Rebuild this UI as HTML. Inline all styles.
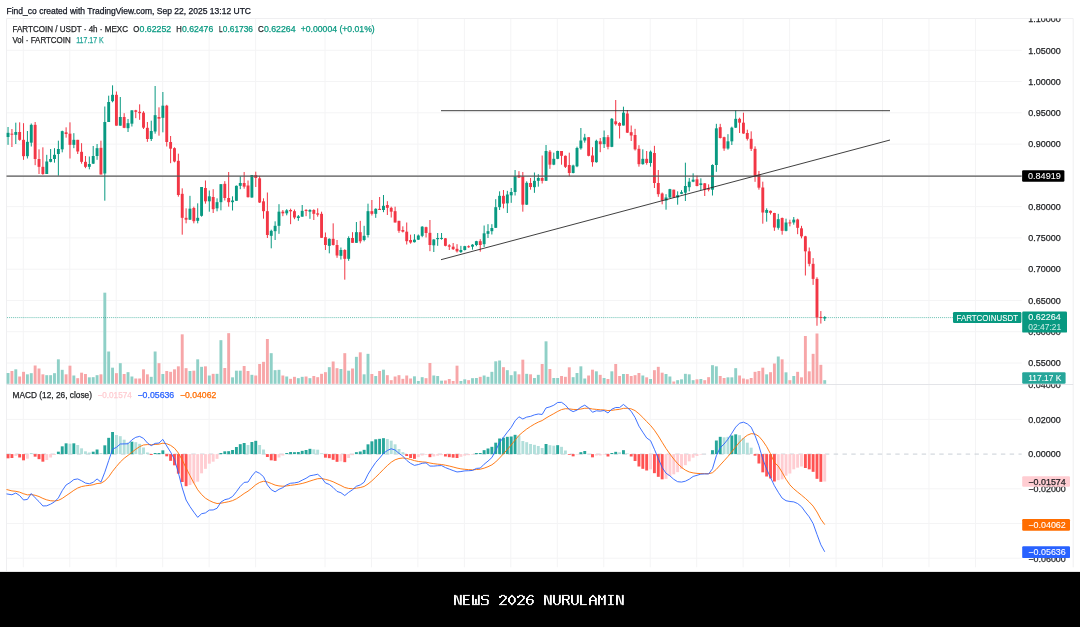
<!DOCTYPE html><html><head><meta charset="utf-8"><style>html,body{margin:0;padding:0;background:#fff}body{width:1080px;height:627px;position:relative;overflow:hidden;font-family:"Liberation Sans",sans-serif}</style></head><body><svg width="1080" height="627" viewBox="0 0 1080 627" style="position:absolute;left:0;top:0;will-change:transform;font-family:'Liberation Sans',sans-serif">
<rect x="0" y="0" width="1080" height="627" fill="#fff"/>
<g stroke="#f4f4f5" stroke-width="1" fill="none">
<line x1="23.30" y1="18.5" x2="23.30" y2="567.3"/>
<line x1="69.76" y1="18.5" x2="69.76" y2="567.3"/>
<line x1="116.22" y1="18.5" x2="116.22" y2="567.3"/>
<line x1="162.68" y1="18.5" x2="162.68" y2="567.3"/>
<line x1="209.14" y1="18.5" x2="209.14" y2="567.3"/>
<line x1="255.60" y1="18.5" x2="255.60" y2="567.3"/>
<line x1="325.00" y1="18.5" x2="325.00" y2="567.3"/>
<line x1="371.46" y1="18.5" x2="371.46" y2="567.3"/>
<line x1="417.92" y1="18.5" x2="417.92" y2="567.3"/>
<line x1="464.38" y1="18.5" x2="464.38" y2="567.3"/>
<line x1="510.84" y1="18.5" x2="510.84" y2="567.3"/>
<line x1="557.30" y1="18.5" x2="557.30" y2="567.3"/>
<line x1="603.76" y1="18.5" x2="603.76" y2="567.3"/>
<line x1="650.22" y1="18.5" x2="650.22" y2="567.3"/>
<line x1="696.68" y1="18.5" x2="696.68" y2="567.3"/>
<line x1="743.14" y1="18.5" x2="743.14" y2="567.3"/>
<line x1="789.60" y1="18.5" x2="789.60" y2="567.3"/>
<line x1="836.06" y1="18.5" x2="836.06" y2="567.3"/>
<line x1="882.52" y1="18.5" x2="882.52" y2="567.3"/>
<line x1="928.98" y1="18.5" x2="928.98" y2="567.3"/>
<line x1="975.44" y1="18.5" x2="975.44" y2="567.3"/>
<line x1="6.5" y1="50.30" x2="1021.7" y2="50.30"/>
<line x1="6.5" y1="81.57" x2="1021.7" y2="81.57"/>
<line x1="6.5" y1="112.84" x2="1021.7" y2="112.84"/>
<line x1="6.5" y1="144.11" x2="1021.7" y2="144.11"/>
<line x1="6.5" y1="175.38" x2="1021.7" y2="175.38"/>
<line x1="6.5" y1="206.65" x2="1021.7" y2="206.65"/>
<line x1="6.5" y1="237.92" x2="1021.7" y2="237.92"/>
<line x1="6.5" y1="269.19" x2="1021.7" y2="269.19"/>
<line x1="6.5" y1="300.46" x2="1021.7" y2="300.46"/>
<line x1="6.5" y1="331.73" x2="1021.7" y2="331.73"/>
<line x1="6.5" y1="363.00" x2="1021.7" y2="363.00"/>
<line x1="6.5" y1="419.40" x2="1021.7" y2="419.40"/>
<line x1="6.5" y1="488.80" x2="1021.7" y2="488.80"/>
<line x1="6.5" y1="523.50" x2="1021.7" y2="523.50"/>
<line x1="6.5" y1="558.20" x2="1021.7" y2="558.20"/>
</g>
<g stroke="#efeff1" stroke-width="1" fill="none">
<line x1="6.5" y1="18.5" x2="1073.2" y2="18.5"/>
<line x1="6.5" y1="18.5" x2="6.5" y2="571"/>
<line x1="1073.2" y1="18.5" x2="1073.2" y2="567.3"/>
</g>
<line x1="6.5" y1="384.5" x2="1073.2" y2="384.5" stroke="#e3e4e8" stroke-width="1"/>
<line x1="6.5" y1="454.1" x2="1021.7" y2="454.1" stroke="#c3cad1" stroke-width="0.9" stroke-dasharray="4.4 4.4"/>
<g>
<rect x="6.59" y="373.00" width="2.9" height="10.80" fill="#8fd0c7"/>
<rect x="10.47" y="371.00" width="2.9" height="12.80" fill="#f7a6a8"/>
<rect x="14.34" y="369.33" width="2.9" height="14.47" fill="#8fd0c7"/>
<rect x="18.21" y="376.50" width="2.9" height="7.30" fill="#f7a6a8"/>
<rect x="22.08" y="371.83" width="2.9" height="11.97" fill="#f7a6a8"/>
<rect x="25.95" y="374.33" width="2.9" height="9.47" fill="#8fd0c7"/>
<rect x="29.82" y="373.17" width="2.9" height="10.63" fill="#8fd0c7"/>
<rect x="33.69" y="365.50" width="2.9" height="18.30" fill="#f7a6a8"/>
<rect x="37.56" y="368.50" width="2.9" height="15.30" fill="#f7a6a8"/>
<rect x="41.43" y="374.33" width="2.9" height="9.47" fill="#f7a6a8"/>
<rect x="45.30" y="375.17" width="2.9" height="8.63" fill="#8fd0c7"/>
<rect x="49.17" y="375.17" width="2.9" height="8.63" fill="#8fd0c7"/>
<rect x="53.04" y="373.17" width="2.9" height="10.63" fill="#8fd0c7"/>
<rect x="56.91" y="359.33" width="2.9" height="24.47" fill="#8fd0c7"/>
<rect x="60.78" y="369.83" width="2.9" height="13.97" fill="#8fd0c7"/>
<rect x="64.65" y="374.33" width="2.9" height="9.47" fill="#f7a6a8"/>
<rect x="68.52" y="365.67" width="2.9" height="18.13" fill="#f7a6a8"/>
<rect x="72.39" y="375.50" width="2.9" height="8.30" fill="#8fd0c7"/>
<rect x="76.26" y="378.17" width="2.9" height="5.63" fill="#f7a6a8"/>
<rect x="80.13" y="372.67" width="2.9" height="11.13" fill="#f7a6a8"/>
<rect x="84.01" y="374.00" width="2.9" height="9.80" fill="#f7a6a8"/>
<rect x="87.88" y="377.33" width="2.9" height="6.47" fill="#8fd0c7"/>
<rect x="91.75" y="377.17" width="2.9" height="6.63" fill="#8fd0c7"/>
<rect x="95.62" y="375.17" width="2.9" height="8.63" fill="#8fd0c7"/>
<rect x="99.49" y="374.33" width="2.9" height="9.47" fill="#f7a6a8"/>
<rect x="103.36" y="292.67" width="2.9" height="91.13" fill="#8fd0c7"/>
<rect x="107.23" y="351.50" width="2.9" height="32.30" fill="#8fd0c7"/>
<rect x="111.10" y="367.67" width="2.9" height="16.13" fill="#8fd0c7"/>
<rect x="114.97" y="373.17" width="2.9" height="10.63" fill="#f7a6a8"/>
<rect x="118.84" y="363.17" width="2.9" height="20.63" fill="#8fd0c7"/>
<rect x="122.71" y="374.00" width="2.9" height="9.80" fill="#f7a6a8"/>
<rect x="126.58" y="372.17" width="2.9" height="11.63" fill="#8fd0c7"/>
<rect x="130.45" y="376.50" width="2.9" height="7.30" fill="#8fd0c7"/>
<rect x="134.32" y="378.50" width="2.9" height="5.30" fill="#f7a6a8"/>
<rect x="138.19" y="378.50" width="2.9" height="5.30" fill="#f7a6a8"/>
<rect x="142.06" y="369.33" width="2.9" height="14.47" fill="#f7a6a8"/>
<rect x="145.93" y="374.33" width="2.9" height="9.47" fill="#f7a6a8"/>
<rect x="149.80" y="376.83" width="2.9" height="6.97" fill="#8fd0c7"/>
<rect x="153.67" y="351.50" width="2.9" height="32.30" fill="#8fd0c7"/>
<rect x="157.54" y="363.17" width="2.9" height="20.63" fill="#f7a6a8"/>
<rect x="161.41" y="374.00" width="2.9" height="9.80" fill="#8fd0c7"/>
<rect x="165.29" y="371.00" width="2.9" height="12.80" fill="#f7a6a8"/>
<rect x="169.16" y="371.83" width="2.9" height="11.97" fill="#f7a6a8"/>
<rect x="173.03" y="369.33" width="2.9" height="14.47" fill="#f7a6a8"/>
<rect x="176.90" y="366.33" width="2.9" height="17.47" fill="#f7a6a8"/>
<rect x="180.77" y="334.33" width="2.9" height="49.47" fill="#f7a6a8"/>
<rect x="184.64" y="368.17" width="2.9" height="15.63" fill="#f7a6a8"/>
<rect x="188.51" y="371.00" width="2.9" height="12.80" fill="#8fd0c7"/>
<rect x="192.38" y="370.67" width="2.9" height="13.13" fill="#f7a6a8"/>
<rect x="196.25" y="359.33" width="2.9" height="24.47" fill="#8fd0c7"/>
<rect x="200.12" y="366.83" width="2.9" height="16.97" fill="#8fd0c7"/>
<rect x="203.99" y="366.33" width="2.9" height="17.47" fill="#f7a6a8"/>
<rect x="207.86" y="375.50" width="2.9" height="8.30" fill="#8fd0c7"/>
<rect x="211.73" y="373.83" width="2.9" height="9.97" fill="#f7a6a8"/>
<rect x="215.60" y="373.83" width="2.9" height="9.97" fill="#8fd0c7"/>
<rect x="219.47" y="340.17" width="2.9" height="43.63" fill="#8fd0c7"/>
<rect x="223.34" y="368.00" width="2.9" height="15.80" fill="#f7a6a8"/>
<rect x="227.21" y="333.17" width="2.9" height="50.63" fill="#f7a6a8"/>
<rect x="231.08" y="377.33" width="2.9" height="6.47" fill="#8fd0c7"/>
<rect x="234.95" y="370.67" width="2.9" height="13.13" fill="#8fd0c7"/>
<rect x="238.82" y="370.67" width="2.9" height="13.13" fill="#8fd0c7"/>
<rect x="242.70" y="366.00" width="2.9" height="17.80" fill="#f7a6a8"/>
<rect x="246.57" y="371.00" width="2.9" height="12.80" fill="#f7a6a8"/>
<rect x="250.44" y="374.83" width="2.9" height="8.97" fill="#8fd0c7"/>
<rect x="254.31" y="375.50" width="2.9" height="8.30" fill="#f7a6a8"/>
<rect x="258.18" y="364.00" width="2.9" height="19.80" fill="#f7a6a8"/>
<rect x="262.05" y="361.83" width="2.9" height="21.97" fill="#f7a6a8"/>
<rect x="265.92" y="339.00" width="2.9" height="44.80" fill="#f7a6a8"/>
<rect x="269.79" y="353.17" width="2.9" height="30.63" fill="#8fd0c7"/>
<rect x="273.66" y="370.17" width="2.9" height="13.63" fill="#8fd0c7"/>
<rect x="277.53" y="369.83" width="2.9" height="13.97" fill="#8fd0c7"/>
<rect x="281.40" y="375.50" width="2.9" height="8.30" fill="#f7a6a8"/>
<rect x="285.27" y="376.50" width="2.9" height="7.30" fill="#8fd0c7"/>
<rect x="289.14" y="378.83" width="2.9" height="4.97" fill="#f7a6a8"/>
<rect x="293.01" y="376.83" width="2.9" height="6.97" fill="#f7a6a8"/>
<rect x="296.88" y="378.17" width="2.9" height="5.63" fill="#8fd0c7"/>
<rect x="300.75" y="376.83" width="2.9" height="6.97" fill="#8fd0c7"/>
<rect x="304.62" y="376.50" width="2.9" height="7.30" fill="#f7a6a8"/>
<rect x="308.49" y="378.17" width="2.9" height="5.63" fill="#8fd0c7"/>
<rect x="312.36" y="376.00" width="2.9" height="7.80" fill="#f7a6a8"/>
<rect x="316.23" y="377.17" width="2.9" height="6.63" fill="#f7a6a8"/>
<rect x="320.11" y="373.83" width="2.9" height="9.97" fill="#f7a6a8"/>
<rect x="323.98" y="372.17" width="2.9" height="11.63" fill="#f7a6a8"/>
<rect x="327.85" y="367.17" width="2.9" height="16.63" fill="#8fd0c7"/>
<rect x="331.72" y="361.50" width="2.9" height="22.30" fill="#f7a6a8"/>
<rect x="335.59" y="368.17" width="2.9" height="15.63" fill="#f7a6a8"/>
<rect x="339.46" y="369.00" width="2.9" height="14.80" fill="#8fd0c7"/>
<rect x="343.33" y="353.17" width="2.9" height="30.63" fill="#f7a6a8"/>
<rect x="347.20" y="370.67" width="2.9" height="13.13" fill="#8fd0c7"/>
<rect x="351.07" y="368.50" width="2.9" height="15.30" fill="#f7a6a8"/>
<rect x="354.94" y="356.83" width="2.9" height="26.97" fill="#8fd0c7"/>
<rect x="358.81" y="352.33" width="2.9" height="31.47" fill="#f7a6a8"/>
<rect x="362.68" y="374.33" width="2.9" height="9.47" fill="#8fd0c7"/>
<rect x="366.55" y="353.83" width="2.9" height="29.97" fill="#8fd0c7"/>
<rect x="370.42" y="374.00" width="2.9" height="9.80" fill="#f7a6a8"/>
<rect x="374.29" y="376.00" width="2.9" height="7.80" fill="#8fd0c7"/>
<rect x="378.16" y="371.00" width="2.9" height="12.80" fill="#f7a6a8"/>
<rect x="382.03" y="369.67" width="2.9" height="14.13" fill="#8fd0c7"/>
<rect x="385.90" y="375.17" width="2.9" height="8.63" fill="#f7a6a8"/>
<rect x="389.77" y="380.17" width="2.9" height="3.63" fill="#f7a6a8"/>
<rect x="393.65" y="376.50" width="2.9" height="7.30" fill="#f7a6a8"/>
<rect x="397.52" y="375.17" width="2.9" height="8.63" fill="#f7a6a8"/>
<rect x="401.39" y="378.83" width="2.9" height="4.97" fill="#f7a6a8"/>
<rect x="405.26" y="375.50" width="2.9" height="8.30" fill="#f7a6a8"/>
<rect x="409.13" y="378.50" width="2.9" height="5.30" fill="#f7a6a8"/>
<rect x="413.00" y="376.33" width="2.9" height="7.47" fill="#8fd0c7"/>
<rect x="416.87" y="381.00" width="2.9" height="2.80" fill="#8fd0c7"/>
<rect x="420.74" y="377.17" width="2.9" height="6.63" fill="#8fd0c7"/>
<rect x="424.61" y="378.17" width="2.9" height="5.63" fill="#f7a6a8"/>
<rect x="428.48" y="363.00" width="2.9" height="20.80" fill="#f7a6a8"/>
<rect x="432.35" y="375.50" width="2.9" height="8.30" fill="#8fd0c7"/>
<rect x="436.22" y="376.00" width="2.9" height="7.80" fill="#8fd0c7"/>
<rect x="440.09" y="380.67" width="2.9" height="3.13" fill="#8fd0c7"/>
<rect x="443.96" y="380.50" width="2.9" height="3.30" fill="#f7a6a8"/>
<rect x="447.83" y="379.00" width="2.9" height="4.80" fill="#f7a6a8"/>
<rect x="451.70" y="381.00" width="2.9" height="2.80" fill="#f7a6a8"/>
<rect x="455.57" y="365.67" width="2.9" height="18.13" fill="#f7a6a8"/>
<rect x="459.44" y="381.00" width="2.9" height="2.80" fill="#8fd0c7"/>
<rect x="463.31" y="379.33" width="2.9" height="4.47" fill="#8fd0c7"/>
<rect x="467.18" y="380.17" width="2.9" height="3.63" fill="#f7a6a8"/>
<rect x="471.05" y="378.17" width="2.9" height="5.63" fill="#8fd0c7"/>
<rect x="474.93" y="378.00" width="2.9" height="5.80" fill="#8fd0c7"/>
<rect x="478.80" y="376.83" width="2.9" height="6.97" fill="#f7a6a8"/>
<rect x="482.67" y="375.50" width="2.9" height="8.30" fill="#8fd0c7"/>
<rect x="486.54" y="376.83" width="2.9" height="6.97" fill="#8fd0c7"/>
<rect x="490.41" y="371.83" width="2.9" height="11.97" fill="#8fd0c7"/>
<rect x="494.28" y="361.33" width="2.9" height="22.47" fill="#8fd0c7"/>
<rect x="498.15" y="360.50" width="2.9" height="23.30" fill="#8fd0c7"/>
<rect x="502.02" y="367.17" width="2.9" height="16.63" fill="#f7a6a8"/>
<rect x="505.89" y="370.17" width="2.9" height="13.63" fill="#8fd0c7"/>
<rect x="509.76" y="375.17" width="2.9" height="8.63" fill="#8fd0c7"/>
<rect x="513.63" y="371.33" width="2.9" height="12.47" fill="#8fd0c7"/>
<rect x="517.50" y="374.33" width="2.9" height="9.47" fill="#f7a6a8"/>
<rect x="521.37" y="359.67" width="2.9" height="24.13" fill="#f7a6a8"/>
<rect x="525.24" y="373.83" width="2.9" height="9.97" fill="#8fd0c7"/>
<rect x="529.11" y="374.33" width="2.9" height="9.47" fill="#f7a6a8"/>
<rect x="532.98" y="378.00" width="2.9" height="5.80" fill="#8fd0c7"/>
<rect x="536.85" y="374.83" width="2.9" height="8.97" fill="#8fd0c7"/>
<rect x="540.72" y="364.00" width="2.9" height="19.80" fill="#f7a6a8"/>
<rect x="544.59" y="341.33" width="2.9" height="42.47" fill="#8fd0c7"/>
<rect x="548.47" y="369.00" width="2.9" height="14.80" fill="#f7a6a8"/>
<rect x="552.34" y="378.00" width="2.9" height="5.80" fill="#8fd0c7"/>
<rect x="556.21" y="378.00" width="2.9" height="5.80" fill="#8fd0c7"/>
<rect x="560.08" y="376.00" width="2.9" height="7.80" fill="#f7a6a8"/>
<rect x="563.95" y="376.83" width="2.9" height="6.97" fill="#f7a6a8"/>
<rect x="567.82" y="367.33" width="2.9" height="16.47" fill="#f7a6a8"/>
<rect x="571.69" y="377.17" width="2.9" height="6.63" fill="#8fd0c7"/>
<rect x="575.56" y="373.00" width="2.9" height="10.80" fill="#8fd0c7"/>
<rect x="579.43" y="366.33" width="2.9" height="17.47" fill="#8fd0c7"/>
<rect x="583.30" y="378.50" width="2.9" height="5.30" fill="#8fd0c7"/>
<rect x="587.17" y="375.50" width="2.9" height="8.30" fill="#f7a6a8"/>
<rect x="591.04" y="369.67" width="2.9" height="14.13" fill="#f7a6a8"/>
<rect x="594.91" y="371.33" width="2.9" height="12.47" fill="#8fd0c7"/>
<rect x="598.78" y="374.83" width="2.9" height="8.97" fill="#f7a6a8"/>
<rect x="602.65" y="378.00" width="2.9" height="5.80" fill="#8fd0c7"/>
<rect x="606.52" y="379.00" width="2.9" height="4.80" fill="#f7a6a8"/>
<rect x="610.39" y="371.33" width="2.9" height="12.47" fill="#8fd0c7"/>
<rect x="614.26" y="364.00" width="2.9" height="19.80" fill="#f7a6a8"/>
<rect x="618.13" y="376.00" width="2.9" height="7.80" fill="#f7a6a8"/>
<rect x="622.00" y="374.00" width="2.9" height="9.80" fill="#8fd0c7"/>
<rect x="625.87" y="374.00" width="2.9" height="9.80" fill="#f7a6a8"/>
<rect x="629.75" y="376.00" width="2.9" height="7.80" fill="#f7a6a8"/>
<rect x="633.62" y="375.17" width="2.9" height="8.63" fill="#f7a6a8"/>
<rect x="637.49" y="373.00" width="2.9" height="10.80" fill="#f7a6a8"/>
<rect x="641.36" y="375.50" width="2.9" height="8.30" fill="#8fd0c7"/>
<rect x="645.23" y="377.33" width="2.9" height="6.47" fill="#f7a6a8"/>
<rect x="649.10" y="379.00" width="2.9" height="4.80" fill="#8fd0c7"/>
<rect x="652.97" y="370.17" width="2.9" height="13.63" fill="#f7a6a8"/>
<rect x="656.84" y="366.83" width="2.9" height="16.97" fill="#f7a6a8"/>
<rect x="660.71" y="372.67" width="2.9" height="11.13" fill="#f7a6a8"/>
<rect x="664.58" y="374.00" width="2.9" height="9.80" fill="#8fd0c7"/>
<rect x="668.45" y="376.50" width="2.9" height="7.30" fill="#8fd0c7"/>
<rect x="672.32" y="381.50" width="2.9" height="2.30" fill="#f7a6a8"/>
<rect x="676.19" y="380.17" width="2.9" height="3.63" fill="#8fd0c7"/>
<rect x="680.06" y="379.33" width="2.9" height="4.47" fill="#8fd0c7"/>
<rect x="683.93" y="373.83" width="2.9" height="9.97" fill="#8fd0c7"/>
<rect x="687.80" y="374.33" width="2.9" height="9.47" fill="#8fd0c7"/>
<rect x="691.67" y="380.17" width="2.9" height="3.63" fill="#8fd0c7"/>
<rect x="695.54" y="379.33" width="2.9" height="4.47" fill="#f7a6a8"/>
<rect x="699.41" y="379.00" width="2.9" height="4.80" fill="#8fd0c7"/>
<rect x="703.28" y="380.17" width="2.9" height="3.63" fill="#f7a6a8"/>
<rect x="707.16" y="377.17" width="2.9" height="6.63" fill="#f7a6a8"/>
<rect x="711.03" y="365.17" width="2.9" height="18.63" fill="#8fd0c7"/>
<rect x="714.90" y="366.33" width="2.9" height="17.47" fill="#8fd0c7"/>
<rect x="718.77" y="376.00" width="2.9" height="7.80" fill="#f7a6a8"/>
<rect x="722.64" y="378.00" width="2.9" height="5.80" fill="#f7a6a8"/>
<rect x="726.51" y="377.33" width="2.9" height="6.47" fill="#8fd0c7"/>
<rect x="730.38" y="377.33" width="2.9" height="6.47" fill="#8fd0c7"/>
<rect x="734.25" y="368.17" width="2.9" height="15.63" fill="#8fd0c7"/>
<rect x="738.12" y="375.50" width="2.9" height="8.30" fill="#f7a6a8"/>
<rect x="741.99" y="378.50" width="2.9" height="5.30" fill="#f7a6a8"/>
<rect x="745.86" y="379.33" width="2.9" height="4.47" fill="#f7a6a8"/>
<rect x="749.73" y="378.00" width="2.9" height="5.80" fill="#f7a6a8"/>
<rect x="753.60" y="371.83" width="2.9" height="11.97" fill="#f7a6a8"/>
<rect x="757.47" y="371.00" width="2.9" height="12.80" fill="#f7a6a8"/>
<rect x="761.34" y="367.67" width="2.9" height="16.13" fill="#f7a6a8"/>
<rect x="765.21" y="374.33" width="2.9" height="9.47" fill="#8fd0c7"/>
<rect x="769.08" y="372.17" width="2.9" height="11.63" fill="#f7a6a8"/>
<rect x="772.95" y="363.50" width="2.9" height="20.30" fill="#f7a6a8"/>
<rect x="776.82" y="356.50" width="2.9" height="27.30" fill="#8fd0c7"/>
<rect x="780.69" y="359.33" width="2.9" height="24.47" fill="#f7a6a8"/>
<rect x="784.57" y="372.33" width="2.9" height="11.47" fill="#8fd0c7"/>
<rect x="788.44" y="380.17" width="2.9" height="3.63" fill="#f7a6a8"/>
<rect x="792.31" y="376.00" width="2.9" height="7.80" fill="#8fd0c7"/>
<rect x="796.18" y="371.83" width="2.9" height="11.97" fill="#f7a6a8"/>
<rect x="800.05" y="377.33" width="2.9" height="6.47" fill="#f7a6a8"/>
<rect x="803.92" y="336.00" width="2.9" height="47.80" fill="#f7a6a8"/>
<rect x="807.79" y="371.33" width="2.9" height="12.47" fill="#f7a6a8"/>
<rect x="811.66" y="353.83" width="2.9" height="29.97" fill="#f7a6a8"/>
<rect x="815.53" y="333.50" width="2.9" height="50.30" fill="#f7a6a8"/>
<rect x="819.40" y="364.83" width="2.9" height="18.97" fill="#f7a6a8"/>
<rect x="823.27" y="380.17" width="2.9" height="3.63" fill="#8fd0c7"/>
</g>
<line x1="7" y1="317.6" x2="953" y2="317.6" stroke="#089981" stroke-width="1" stroke-dasharray="0.98 0.98" opacity="0.6"/>
<g>
<rect x="7.54" y="127.00" width="1" height="17.83" fill="#089981"/>
<rect x="6.59" y="132.83" width="2.9" height="4.17" fill="#089981"/>
<rect x="11.42" y="129.00" width="1" height="18.00" fill="#f23645"/>
<rect x="10.47" y="133.67" width="2.9" height="1.00" fill="#f23645"/>
<rect x="15.29" y="122.67" width="1" height="21.33" fill="#089981"/>
<rect x="14.34" y="132.00" width="2.9" height="2.83" fill="#089981"/>
<rect x="19.16" y="122.33" width="1" height="18.34" fill="#f23645"/>
<rect x="18.21" y="132.00" width="2.9" height="7.83" fill="#f23645"/>
<rect x="23.03" y="123.17" width="1" height="36.66" fill="#f23645"/>
<rect x="22.08" y="139.83" width="2.9" height="16.34" fill="#f23645"/>
<rect x="26.90" y="131.00" width="1" height="27.50" fill="#089981"/>
<rect x="25.95" y="141.83" width="2.9" height="14.34" fill="#089981"/>
<rect x="30.77" y="123.50" width="1" height="23.00" fill="#089981"/>
<rect x="29.82" y="124.83" width="2.9" height="17.84" fill="#089981"/>
<rect x="34.64" y="122.00" width="1" height="43.17" fill="#f23645"/>
<rect x="33.69" y="124.83" width="2.9" height="34.17" fill="#f23645"/>
<rect x="38.51" y="149.33" width="1" height="24.67" fill="#f23645"/>
<rect x="37.56" y="159.00" width="2.9" height="7.83" fill="#f23645"/>
<rect x="42.38" y="147.33" width="1" height="27.50" fill="#f23645"/>
<rect x="41.43" y="166.83" width="2.9" height="7.17" fill="#f23645"/>
<rect x="46.25" y="154.83" width="1" height="19.17" fill="#089981"/>
<rect x="45.30" y="161.50" width="2.9" height="12.50" fill="#089981"/>
<rect x="50.12" y="149.00" width="1" height="13.33" fill="#089981"/>
<rect x="49.17" y="159.00" width="2.9" height="2.83" fill="#089981"/>
<rect x="53.99" y="148.17" width="1" height="14.50" fill="#089981"/>
<rect x="53.04" y="154.83" width="2.9" height="4.17" fill="#089981"/>
<rect x="57.86" y="140.67" width="1" height="35.00" fill="#089981"/>
<rect x="56.91" y="149.00" width="2.9" height="5.00" fill="#089981"/>
<rect x="61.73" y="130.67" width="1" height="21.66" fill="#089981"/>
<rect x="60.78" y="131.17" width="2.9" height="18.16" fill="#089981"/>
<rect x="65.60" y="127.33" width="1" height="10.34" fill="#f23645"/>
<rect x="64.65" y="132.33" width="2.9" height="1.67" fill="#f23645"/>
<rect x="69.47" y="122.33" width="1" height="36.17" fill="#f23645"/>
<rect x="68.52" y="133.67" width="2.9" height="11.16" fill="#f23645"/>
<rect x="73.34" y="133.17" width="1" height="15.00" fill="#089981"/>
<rect x="72.39" y="139.83" width="2.9" height="5.00" fill="#089981"/>
<rect x="77.21" y="139.83" width="1" height="14.17" fill="#f23645"/>
<rect x="76.26" y="139.83" width="2.9" height="11.67" fill="#f23645"/>
<rect x="81.08" y="143.17" width="1" height="20.50" fill="#f23645"/>
<rect x="80.13" y="151.83" width="2.9" height="10.00" fill="#f23645"/>
<rect x="84.96" y="156.00" width="1" height="12.17" fill="#f23645"/>
<rect x="84.01" y="161.83" width="2.9" height="5.00" fill="#f23645"/>
<rect x="88.83" y="156.50" width="1" height="12.83" fill="#089981"/>
<rect x="87.88" y="164.00" width="2.9" height="2.83" fill="#089981"/>
<rect x="92.70" y="146.00" width="1" height="18.00" fill="#089981"/>
<rect x="91.75" y="156.00" width="2.9" height="7.67" fill="#089981"/>
<rect x="96.57" y="144.00" width="1" height="15.83" fill="#089981"/>
<rect x="95.62" y="148.17" width="2.9" height="7.83" fill="#089981"/>
<rect x="100.44" y="140.67" width="1" height="33.83" fill="#f23645"/>
<rect x="99.49" y="147.83" width="2.9" height="26.67" fill="#f23645"/>
<rect x="104.31" y="106.50" width="1" height="94.17" fill="#089981"/>
<rect x="103.36" y="122.00" width="2.9" height="51.50" fill="#089981"/>
<rect x="108.18" y="95.67" width="1" height="26.33" fill="#089981"/>
<rect x="107.23" y="102.00" width="2.9" height="20.00" fill="#089981"/>
<rect x="112.05" y="85.33" width="1" height="17.00" fill="#089981"/>
<rect x="111.10" y="94.83" width="2.9" height="6.34" fill="#089981"/>
<rect x="115.92" y="91.50" width="1" height="34.17" fill="#f23645"/>
<rect x="114.97" y="94.83" width="2.9" height="30.84" fill="#f23645"/>
<rect x="119.79" y="97.00" width="1" height="28.67" fill="#089981"/>
<rect x="118.84" y="117.00" width="2.9" height="8.67" fill="#089981"/>
<rect x="123.66" y="113.17" width="1" height="15.00" fill="#f23645"/>
<rect x="122.71" y="117.00" width="2.9" height="10.83" fill="#f23645"/>
<rect x="127.53" y="119.00" width="1" height="13.00" fill="#089981"/>
<rect x="126.58" y="123.17" width="2.9" height="5.00" fill="#089981"/>
<rect x="131.40" y="110.33" width="1" height="16.17" fill="#089981"/>
<rect x="130.45" y="110.33" width="2.9" height="13.34" fill="#089981"/>
<rect x="135.27" y="109.83" width="1" height="8.34" fill="#f23645"/>
<rect x="134.32" y="110.33" width="2.9" height="1.50" fill="#f23645"/>
<rect x="139.14" y="104.33" width="1" height="15.50" fill="#f23645"/>
<rect x="138.19" y="111.83" width="2.9" height="1.34" fill="#f23645"/>
<rect x="143.01" y="111.17" width="1" height="17.83" fill="#f23645"/>
<rect x="142.06" y="112.67" width="2.9" height="15.00" fill="#f23645"/>
<rect x="146.88" y="122.00" width="1" height="19.83" fill="#f23645"/>
<rect x="145.93" y="127.83" width="2.9" height="11.17" fill="#f23645"/>
<rect x="150.75" y="120.67" width="1" height="20.33" fill="#089981"/>
<rect x="149.80" y="131.00" width="2.9" height="8.00" fill="#089981"/>
<rect x="154.62" y="86.00" width="1" height="47.67" fill="#089981"/>
<rect x="153.67" y="115.17" width="2.9" height="16.33" fill="#089981"/>
<rect x="158.49" y="107.33" width="1" height="28.34" fill="#f23645"/>
<rect x="157.54" y="117.00" width="2.9" height="1.67" fill="#f23645"/>
<rect x="162.36" y="92.00" width="1" height="40.33" fill="#089981"/>
<rect x="161.41" y="105.67" width="2.9" height="12.16" fill="#089981"/>
<rect x="166.24" y="104.83" width="1" height="41.67" fill="#f23645"/>
<rect x="165.29" y="105.67" width="2.9" height="36.33" fill="#f23645"/>
<rect x="170.11" y="136.00" width="1" height="27.17" fill="#f23645"/>
<rect x="169.16" y="142.00" width="2.9" height="6.67" fill="#f23645"/>
<rect x="173.98" y="147.33" width="1" height="15.00" fill="#f23645"/>
<rect x="173.03" y="148.17" width="2.9" height="13.33" fill="#f23645"/>
<rect x="177.85" y="153.67" width="1" height="43.00" fill="#f23645"/>
<rect x="176.90" y="160.83" width="2.9" height="34.17" fill="#f23645"/>
<rect x="181.72" y="188.33" width="1" height="46.34" fill="#f23645"/>
<rect x="180.77" y="193.83" width="2.9" height="24.00" fill="#f23645"/>
<rect x="185.59" y="208.33" width="1" height="15.00" fill="#f23645"/>
<rect x="184.64" y="217.83" width="2.9" height="1.84" fill="#f23645"/>
<rect x="189.46" y="195.83" width="1" height="24.17" fill="#089981"/>
<rect x="188.51" y="208.67" width="2.9" height="11.00" fill="#089981"/>
<rect x="193.33" y="206.67" width="1" height="16.66" fill="#f23645"/>
<rect x="192.38" y="208.00" width="2.9" height="13.17" fill="#f23645"/>
<rect x="197.20" y="203.33" width="1" height="20.00" fill="#089981"/>
<rect x="196.25" y="217.83" width="2.9" height="3.00" fill="#089981"/>
<rect x="201.07" y="187.00" width="1" height="29.67" fill="#089981"/>
<rect x="200.12" y="187.00" width="2.9" height="28.83" fill="#089981"/>
<rect x="204.94" y="180.50" width="1" height="23.17" fill="#f23645"/>
<rect x="203.99" y="188.00" width="2.9" height="13.33" fill="#f23645"/>
<rect x="208.81" y="190.50" width="1" height="21.17" fill="#089981"/>
<rect x="207.86" y="196.33" width="2.9" height="5.00" fill="#089981"/>
<rect x="212.68" y="189.17" width="1" height="23.83" fill="#f23645"/>
<rect x="211.73" y="197.00" width="2.9" height="12.17" fill="#f23645"/>
<rect x="216.55" y="198.33" width="1" height="13.00" fill="#089981"/>
<rect x="215.60" y="202.17" width="2.9" height="6.16" fill="#089981"/>
<rect x="220.42" y="184.17" width="1" height="26.16" fill="#089981"/>
<rect x="219.47" y="184.17" width="2.9" height="18.00" fill="#089981"/>
<rect x="224.29" y="181.17" width="1" height="19.33" fill="#f23645"/>
<rect x="223.34" y="183.83" width="2.9" height="14.17" fill="#f23645"/>
<rect x="228.16" y="172.00" width="1" height="34.67" fill="#f23645"/>
<rect x="227.21" y="198.00" width="2.9" height="4.17" fill="#f23645"/>
<rect x="232.03" y="196.33" width="1" height="14.17" fill="#089981"/>
<rect x="231.08" y="200.50" width="2.9" height="1.67" fill="#089981"/>
<rect x="235.90" y="185.50" width="1" height="15.33" fill="#089981"/>
<rect x="234.95" y="185.83" width="2.9" height="15.00" fill="#089981"/>
<rect x="239.77" y="176.33" width="1" height="12.84" fill="#089981"/>
<rect x="238.82" y="183.00" width="2.9" height="2.83" fill="#089981"/>
<rect x="243.65" y="172.00" width="1" height="16.67" fill="#f23645"/>
<rect x="242.70" y="183.00" width="2.9" height="3.67" fill="#f23645"/>
<rect x="247.52" y="180.50" width="1" height="17.00" fill="#f23645"/>
<rect x="246.57" y="185.50" width="2.9" height="11.67" fill="#f23645"/>
<rect x="251.39" y="175.00" width="1" height="22.83" fill="#089981"/>
<rect x="250.44" y="175.00" width="2.9" height="22.50" fill="#089981"/>
<rect x="255.26" y="171.67" width="1" height="15.33" fill="#f23645"/>
<rect x="254.31" y="175.00" width="2.9" height="3.00" fill="#f23645"/>
<rect x="259.13" y="175.83" width="1" height="27.17" fill="#f23645"/>
<rect x="258.18" y="178.33" width="2.9" height="24.17" fill="#f23645"/>
<rect x="263.00" y="198.33" width="1" height="20.34" fill="#f23645"/>
<rect x="262.05" y="201.33" width="2.9" height="9.84" fill="#f23645"/>
<rect x="266.87" y="192.50" width="1" height="45.50" fill="#f23645"/>
<rect x="265.92" y="211.17" width="2.9" height="23.83" fill="#f23645"/>
<rect x="270.74" y="229.67" width="1" height="18.66" fill="#089981"/>
<rect x="269.79" y="230.83" width="2.9" height="5.00" fill="#089981"/>
<rect x="274.61" y="221.33" width="1" height="18.67" fill="#089981"/>
<rect x="273.66" y="225.83" width="2.9" height="5.34" fill="#089981"/>
<rect x="278.48" y="204.17" width="1" height="29.66" fill="#089981"/>
<rect x="277.53" y="211.67" width="2.9" height="14.16" fill="#089981"/>
<rect x="282.35" y="210.00" width="1" height="6.17" fill="#f23645"/>
<rect x="281.40" y="211.67" width="2.9" height="1.66" fill="#f23645"/>
<rect x="286.22" y="209.17" width="1" height="6.16" fill="#089981"/>
<rect x="285.27" y="210.33" width="2.9" height="3.00" fill="#089981"/>
<rect x="290.09" y="208.67" width="1" height="15.50" fill="#f23645"/>
<rect x="289.14" y="210.00" width="2.9" height="1.33" fill="#f23645"/>
<rect x="293.96" y="209.50" width="1" height="9.67" fill="#f23645"/>
<rect x="293.01" y="211.17" width="2.9" height="6.33" fill="#f23645"/>
<rect x="297.83" y="215.00" width="1" height="5.83" fill="#089981"/>
<rect x="296.88" y="216.33" width="2.9" height="1.67" fill="#089981"/>
<rect x="301.70" y="205.00" width="1" height="11.67" fill="#089981"/>
<rect x="300.75" y="210.83" width="2.9" height="5.84" fill="#089981"/>
<rect x="305.57" y="209.17" width="1" height="7.00" fill="#f23645"/>
<rect x="304.62" y="209.92" width="2.9" height="1.00" fill="#f23645"/>
<rect x="309.44" y="209.17" width="1" height="9.66" fill="#089981"/>
<rect x="308.49" y="210.00" width="2.9" height="1.67" fill="#089981"/>
<rect x="313.31" y="209.17" width="1" height="10.83" fill="#f23645"/>
<rect x="312.36" y="210.00" width="2.9" height="3.83" fill="#f23645"/>
<rect x="317.18" y="208.33" width="1" height="8.34" fill="#f23645"/>
<rect x="316.23" y="213.33" width="2.9" height="1.34" fill="#f23645"/>
<rect x="321.06" y="211.67" width="1" height="26.16" fill="#f23645"/>
<rect x="320.11" y="213.83" width="2.9" height="24.00" fill="#f23645"/>
<rect x="324.93" y="232.50" width="1" height="17.50" fill="#f23645"/>
<rect x="323.98" y="237.17" width="2.9" height="7.83" fill="#f23645"/>
<rect x="328.80" y="238.33" width="1" height="15.00" fill="#089981"/>
<rect x="327.85" y="238.83" width="2.9" height="7.00" fill="#089981"/>
<rect x="332.67" y="223.33" width="1" height="22.17" fill="#f23645"/>
<rect x="331.72" y="238.83" width="2.9" height="6.17" fill="#f23645"/>
<rect x="336.54" y="240.00" width="1" height="17.83" fill="#f23645"/>
<rect x="335.59" y="245.00" width="2.9" height="10.50" fill="#f23645"/>
<rect x="340.41" y="247.50" width="1" height="12.00" fill="#089981"/>
<rect x="339.46" y="250.00" width="2.9" height="5.83" fill="#089981"/>
<rect x="344.28" y="249.17" width="1" height="30.50" fill="#f23645"/>
<rect x="343.33" y="250.00" width="2.9" height="8.83" fill="#f23645"/>
<rect x="348.15" y="236.33" width="1" height="24.50" fill="#089981"/>
<rect x="347.20" y="238.00" width="2.9" height="20.83" fill="#089981"/>
<rect x="352.02" y="232.17" width="1" height="10.66" fill="#f23645"/>
<rect x="351.07" y="238.00" width="2.9" height="4.83" fill="#f23645"/>
<rect x="355.89" y="222.00" width="1" height="20.83" fill="#089981"/>
<rect x="354.94" y="232.17" width="2.9" height="10.66" fill="#089981"/>
<rect x="359.76" y="220.83" width="1" height="22.50" fill="#f23645"/>
<rect x="358.81" y="232.17" width="2.9" height="9.16" fill="#f23645"/>
<rect x="363.63" y="225.83" width="1" height="15.50" fill="#089981"/>
<rect x="362.68" y="235.83" width="2.9" height="4.17" fill="#089981"/>
<rect x="367.50" y="203.67" width="1" height="33.83" fill="#089981"/>
<rect x="366.55" y="211.17" width="2.9" height="23.83" fill="#089981"/>
<rect x="371.37" y="200.00" width="1" height="15.50" fill="#f23645"/>
<rect x="370.42" y="211.17" width="2.9" height="2.66" fill="#f23645"/>
<rect x="375.24" y="208.33" width="1" height="9.50" fill="#089981"/>
<rect x="374.29" y="208.83" width="2.9" height="5.00" fill="#089981"/>
<rect x="379.11" y="197.00" width="1" height="13.00" fill="#f23645"/>
<rect x="378.16" y="208.83" width="2.9" height="1.17" fill="#f23645"/>
<rect x="382.98" y="195.00" width="1" height="17.17" fill="#089981"/>
<rect x="382.03" y="205.83" width="2.9" height="4.17" fill="#089981"/>
<rect x="386.85" y="201.17" width="1" height="13.83" fill="#f23645"/>
<rect x="385.90" y="205.00" width="2.9" height="2.83" fill="#f23645"/>
<rect x="390.72" y="206.67" width="1" height="10.83" fill="#f23645"/>
<rect x="389.77" y="207.83" width="2.9" height="3.84" fill="#f23645"/>
<rect x="394.60" y="206.67" width="1" height="15.83" fill="#f23645"/>
<rect x="393.65" y="211.17" width="2.9" height="11.33" fill="#f23645"/>
<rect x="398.47" y="220.83" width="1" height="12.00" fill="#f23645"/>
<rect x="397.52" y="220.83" width="2.9" height="10.00" fill="#f23645"/>
<rect x="402.34" y="226.33" width="1" height="6.17" fill="#f23645"/>
<rect x="401.39" y="230.00" width="2.9" height="1.67" fill="#f23645"/>
<rect x="406.21" y="222.50" width="1" height="22.00" fill="#f23645"/>
<rect x="405.26" y="231.67" width="2.9" height="9.50" fill="#f23645"/>
<rect x="410.08" y="234.67" width="1" height="9.00" fill="#f23645"/>
<rect x="409.13" y="240.00" width="2.9" height="2.50" fill="#f23645"/>
<rect x="413.95" y="234.17" width="1" height="8.33" fill="#089981"/>
<rect x="413.00" y="239.67" width="2.9" height="2.50" fill="#089981"/>
<rect x="417.82" y="234.50" width="1" height="5.50" fill="#089981"/>
<rect x="416.87" y="235.50" width="2.9" height="4.17" fill="#089981"/>
<rect x="421.69" y="226.17" width="1" height="11.00" fill="#089981"/>
<rect x="420.74" y="226.67" width="2.9" height="9.16" fill="#089981"/>
<rect x="425.56" y="226.67" width="1" height="10.83" fill="#f23645"/>
<rect x="424.61" y="227.17" width="2.9" height="5.83" fill="#f23645"/>
<rect x="429.43" y="220.00" width="1" height="31.17" fill="#f23645"/>
<rect x="428.48" y="232.83" width="2.9" height="12.17" fill="#f23645"/>
<rect x="433.30" y="239.17" width="1" height="12.83" fill="#089981"/>
<rect x="432.35" y="239.50" width="2.9" height="5.83" fill="#089981"/>
<rect x="437.17" y="233.00" width="1" height="12.83" fill="#089981"/>
<rect x="436.22" y="238.00" width="2.9" height="1.17" fill="#089981"/>
<rect x="441.04" y="233.00" width="1" height="6.67" fill="#089981"/>
<rect x="440.09" y="237.92" width="2.9" height="1.00" fill="#089981"/>
<rect x="444.91" y="238.00" width="1" height="8.33" fill="#f23645"/>
<rect x="443.96" y="238.33" width="2.9" height="7.50" fill="#f23645"/>
<rect x="448.78" y="244.17" width="1" height="5.83" fill="#f23645"/>
<rect x="447.83" y="245.33" width="2.9" height="1.34" fill="#f23645"/>
<rect x="452.65" y="243.00" width="1" height="7.00" fill="#f23645"/>
<rect x="451.70" y="246.67" width="2.9" height="2.50" fill="#f23645"/>
<rect x="456.52" y="244.17" width="1" height="8.33" fill="#f23645"/>
<rect x="455.57" y="248.83" width="2.9" height="2.50" fill="#f23645"/>
<rect x="460.39" y="245.83" width="1" height="7.17" fill="#089981"/>
<rect x="459.44" y="250.00" width="2.9" height="2.00" fill="#089981"/>
<rect x="464.26" y="245.83" width="1" height="4.67" fill="#089981"/>
<rect x="463.31" y="246.17" width="2.9" height="3.83" fill="#089981"/>
<rect x="468.13" y="245.33" width="1" height="2.50" fill="#f23645"/>
<rect x="467.18" y="246.25" width="2.9" height="1.00" fill="#f23645"/>
<rect x="472.00" y="244.17" width="1" height="5.50" fill="#089981"/>
<rect x="471.05" y="244.67" width="2.9" height="2.00" fill="#089981"/>
<rect x="475.88" y="240.83" width="1" height="5.34" fill="#089981"/>
<rect x="474.93" y="241.17" width="2.9" height="3.83" fill="#089981"/>
<rect x="479.75" y="239.17" width="1" height="12.50" fill="#f23645"/>
<rect x="478.80" y="241.17" width="2.9" height="3.83" fill="#f23645"/>
<rect x="483.62" y="225.50" width="1" height="21.50" fill="#089981"/>
<rect x="482.67" y="233.33" width="2.9" height="10.84" fill="#089981"/>
<rect x="487.49" y="224.17" width="1" height="13.83" fill="#089981"/>
<rect x="486.54" y="231.17" width="2.9" height="2.66" fill="#089981"/>
<rect x="491.36" y="224.17" width="1" height="10.33" fill="#089981"/>
<rect x="490.41" y="228.00" width="2.9" height="3.17" fill="#089981"/>
<rect x="495.23" y="199.17" width="1" height="28.66" fill="#089981"/>
<rect x="494.28" y="207.17" width="2.9" height="20.66" fill="#089981"/>
<rect x="499.10" y="191.33" width="1" height="18.67" fill="#089981"/>
<rect x="498.15" y="195.83" width="2.9" height="11.34" fill="#089981"/>
<rect x="502.97" y="190.00" width="1" height="18.33" fill="#f23645"/>
<rect x="502.02" y="195.83" width="2.9" height="7.84" fill="#f23645"/>
<rect x="506.84" y="190.83" width="1" height="22.17" fill="#089981"/>
<rect x="505.89" y="194.50" width="2.9" height="8.83" fill="#089981"/>
<rect x="510.71" y="188.00" width="1" height="14.83" fill="#089981"/>
<rect x="509.76" y="192.00" width="2.9" height="3.33" fill="#089981"/>
<rect x="514.58" y="170.00" width="1" height="25.50" fill="#089981"/>
<rect x="513.63" y="176.17" width="2.9" height="15.83" fill="#089981"/>
<rect x="518.45" y="171.17" width="1" height="6.66" fill="#f23645"/>
<rect x="517.50" y="175.50" width="2.9" height="2.00" fill="#f23645"/>
<rect x="522.32" y="172.00" width="1" height="39.67" fill="#f23645"/>
<rect x="521.37" y="176.33" width="2.9" height="28.34" fill="#f23645"/>
<rect x="526.19" y="181.33" width="1" height="23.67" fill="#089981"/>
<rect x="525.24" y="182.83" width="2.9" height="21.84" fill="#089981"/>
<rect x="530.06" y="178.00" width="1" height="11.67" fill="#f23645"/>
<rect x="529.11" y="183.00" width="2.9" height="4.00" fill="#f23645"/>
<rect x="533.93" y="172.50" width="1" height="20.33" fill="#089981"/>
<rect x="532.98" y="180.83" width="2.9" height="6.34" fill="#089981"/>
<rect x="537.80" y="174.17" width="1" height="12.50" fill="#089981"/>
<rect x="536.85" y="178.00" width="2.9" height="2.83" fill="#089981"/>
<rect x="541.67" y="155.50" width="1" height="28.00" fill="#f23645"/>
<rect x="540.72" y="178.00" width="2.9" height="2.83" fill="#f23645"/>
<rect x="545.54" y="145.00" width="1" height="35.83" fill="#089981"/>
<rect x="544.59" y="151.00" width="2.9" height="29.83" fill="#089981"/>
<rect x="549.42" y="150.00" width="1" height="18.83" fill="#f23645"/>
<rect x="548.47" y="151.67" width="2.9" height="13.00" fill="#f23645"/>
<rect x="553.29" y="152.67" width="1" height="12.50" fill="#089981"/>
<rect x="552.34" y="158.83" width="2.9" height="5.84" fill="#089981"/>
<rect x="557.16" y="150.67" width="1" height="8.50" fill="#089981"/>
<rect x="556.21" y="151.00" width="2.9" height="7.83" fill="#089981"/>
<rect x="561.03" y="151.00" width="1" height="13.67" fill="#f23645"/>
<rect x="560.08" y="151.00" width="2.9" height="4.83" fill="#f23645"/>
<rect x="564.90" y="155.50" width="1" height="12.50" fill="#f23645"/>
<rect x="563.95" y="155.83" width="2.9" height="11.00" fill="#f23645"/>
<rect x="568.77" y="152.67" width="1" height="23.66" fill="#f23645"/>
<rect x="567.82" y="165.00" width="2.9" height="8.00" fill="#f23645"/>
<rect x="572.64" y="164.67" width="1" height="8.66" fill="#089981"/>
<rect x="571.69" y="165.50" width="2.9" height="7.50" fill="#089981"/>
<rect x="576.51" y="146.67" width="1" height="20.50" fill="#089981"/>
<rect x="575.56" y="148.00" width="2.9" height="18.33" fill="#089981"/>
<rect x="580.38" y="128.00" width="1" height="21.67" fill="#089981"/>
<rect x="579.43" y="140.50" width="2.9" height="7.83" fill="#089981"/>
<rect x="584.25" y="133.83" width="1" height="8.84" fill="#089981"/>
<rect x="583.30" y="137.50" width="2.9" height="3.00" fill="#089981"/>
<rect x="588.12" y="137.17" width="1" height="19.16" fill="#f23645"/>
<rect x="587.17" y="137.17" width="2.9" height="18.66" fill="#f23645"/>
<rect x="591.99" y="147.17" width="1" height="19.50" fill="#f23645"/>
<rect x="591.04" y="155.50" width="2.9" height="6.67" fill="#f23645"/>
<rect x="595.86" y="139.67" width="1" height="23.00" fill="#089981"/>
<rect x="594.91" y="140.83" width="2.9" height="21.34" fill="#089981"/>
<rect x="599.73" y="138.00" width="1" height="14.17" fill="#f23645"/>
<rect x="598.78" y="141.33" width="2.9" height="2.84" fill="#f23645"/>
<rect x="603.60" y="130.50" width="1" height="17.50" fill="#089981"/>
<rect x="602.65" y="137.17" width="2.9" height="7.00" fill="#089981"/>
<rect x="607.47" y="135.00" width="1" height="14.33" fill="#f23645"/>
<rect x="606.52" y="137.17" width="2.9" height="9.66" fill="#f23645"/>
<rect x="611.34" y="118.00" width="1" height="29.17" fill="#089981"/>
<rect x="610.39" y="118.83" width="2.9" height="28.00" fill="#089981"/>
<rect x="615.21" y="100.00" width="1" height="25.50" fill="#f23645"/>
<rect x="614.26" y="121.33" width="2.9" height="2.84" fill="#f23645"/>
<rect x="619.08" y="122.17" width="1" height="16.33" fill="#f23645"/>
<rect x="618.13" y="123.00" width="2.9" height="2.83" fill="#f23645"/>
<rect x="622.95" y="106.67" width="1" height="18.83" fill="#089981"/>
<rect x="622.00" y="112.67" width="2.9" height="12.83" fill="#089981"/>
<rect x="626.82" y="110.00" width="1" height="23.00" fill="#f23645"/>
<rect x="625.87" y="113.50" width="2.9" height="19.17" fill="#f23645"/>
<rect x="630.70" y="125.50" width="1" height="15.50" fill="#f23645"/>
<rect x="629.75" y="132.17" width="2.9" height="3.33" fill="#f23645"/>
<rect x="634.57" y="128.83" width="1" height="21.67" fill="#f23645"/>
<rect x="633.62" y="135.00" width="2.9" height="14.33" fill="#f23645"/>
<rect x="638.44" y="145.17" width="1" height="21.50" fill="#f23645"/>
<rect x="637.49" y="148.83" width="2.9" height="15.34" fill="#f23645"/>
<rect x="642.31" y="149.33" width="1" height="15.34" fill="#089981"/>
<rect x="641.36" y="158.83" width="2.9" height="5.34" fill="#089981"/>
<rect x="646.18" y="151.00" width="1" height="13.67" fill="#f23645"/>
<rect x="645.23" y="158.83" width="2.9" height="4.17" fill="#f23645"/>
<rect x="650.05" y="150.50" width="1" height="16.17" fill="#089981"/>
<rect x="649.10" y="151.67" width="2.9" height="11.33" fill="#089981"/>
<rect x="653.92" y="145.83" width="1" height="42.17" fill="#f23645"/>
<rect x="652.97" y="153.00" width="2.9" height="30.00" fill="#f23645"/>
<rect x="657.79" y="170.00" width="1" height="26.83" fill="#f23645"/>
<rect x="656.84" y="183.00" width="2.9" height="11.17" fill="#f23645"/>
<rect x="661.66" y="192.50" width="1" height="11.83" fill="#f23645"/>
<rect x="660.71" y="193.50" width="2.9" height="7.00" fill="#f23645"/>
<rect x="665.53" y="194.17" width="1" height="15.50" fill="#089981"/>
<rect x="664.58" y="197.50" width="2.9" height="3.00" fill="#089981"/>
<rect x="669.40" y="188.83" width="1" height="9.17" fill="#089981"/>
<rect x="668.45" y="189.17" width="2.9" height="8.33" fill="#089981"/>
<rect x="673.27" y="189.67" width="1" height="8.33" fill="#f23645"/>
<rect x="672.32" y="189.67" width="2.9" height="7.83" fill="#f23645"/>
<rect x="677.14" y="191.33" width="1" height="13.34" fill="#089981"/>
<rect x="676.19" y="195.17" width="2.9" height="2.33" fill="#089981"/>
<rect x="681.01" y="190.17" width="1" height="4.00" fill="#089981"/>
<rect x="680.06" y="192.17" width="2.9" height="1.66" fill="#089981"/>
<rect x="684.88" y="162.67" width="1" height="38.33" fill="#089981"/>
<rect x="683.93" y="186.00" width="2.9" height="6.67" fill="#089981"/>
<rect x="688.75" y="178.00" width="1" height="13.33" fill="#089981"/>
<rect x="687.80" y="181.67" width="2.9" height="5.50" fill="#089981"/>
<rect x="692.62" y="173.33" width="1" height="8.84" fill="#089981"/>
<rect x="691.67" y="179.67" width="2.9" height="2.00" fill="#089981"/>
<rect x="696.49" y="175.50" width="1" height="10.83" fill="#f23645"/>
<rect x="695.54" y="179.33" width="2.9" height="6.67" fill="#f23645"/>
<rect x="700.36" y="178.33" width="1" height="11.67" fill="#089981"/>
<rect x="699.41" y="183.33" width="2.9" height="1.67" fill="#089981"/>
<rect x="704.23" y="183.00" width="1" height="13.00" fill="#f23645"/>
<rect x="703.28" y="183.33" width="2.9" height="6.34" fill="#f23645"/>
<rect x="708.11" y="184.33" width="1" height="7.00" fill="#f23645"/>
<rect x="707.16" y="188.50" width="2.9" height="1.17" fill="#f23645"/>
<rect x="711.98" y="164.33" width="1" height="31.17" fill="#089981"/>
<rect x="711.03" y="165.00" width="2.9" height="24.67" fill="#089981"/>
<rect x="715.85" y="123.83" width="1" height="48.00" fill="#089981"/>
<rect x="714.90" y="128.33" width="2.9" height="36.67" fill="#089981"/>
<rect x="719.72" y="123.83" width="1" height="14.67" fill="#f23645"/>
<rect x="718.77" y="127.17" width="2.9" height="10.83" fill="#f23645"/>
<rect x="723.59" y="136.67" width="1" height="14.16" fill="#f23645"/>
<rect x="722.64" y="137.17" width="2.9" height="11.33" fill="#f23645"/>
<rect x="727.46" y="134.17" width="1" height="15.50" fill="#089981"/>
<rect x="726.51" y="141.33" width="2.9" height="7.17" fill="#089981"/>
<rect x="731.33" y="126.67" width="1" height="18.33" fill="#089981"/>
<rect x="730.38" y="127.67" width="2.9" height="13.66" fill="#089981"/>
<rect x="735.20" y="110.50" width="1" height="17.50" fill="#089981"/>
<rect x="734.25" y="118.83" width="2.9" height="8.84" fill="#089981"/>
<rect x="739.07" y="117.67" width="1" height="15.33" fill="#f23645"/>
<rect x="738.12" y="118.83" width="2.9" height="3.84" fill="#f23645"/>
<rect x="742.94" y="112.67" width="1" height="21.16" fill="#f23645"/>
<rect x="741.99" y="122.67" width="2.9" height="10.83" fill="#f23645"/>
<rect x="746.81" y="129.67" width="1" height="10.83" fill="#f23645"/>
<rect x="745.86" y="133.00" width="2.9" height="5.83" fill="#f23645"/>
<rect x="750.68" y="131.33" width="1" height="19.67" fill="#f23645"/>
<rect x="749.73" y="138.83" width="2.9" height="10.00" fill="#f23645"/>
<rect x="754.55" y="146.33" width="1" height="35.50" fill="#f23645"/>
<rect x="753.60" y="148.83" width="2.9" height="27.50" fill="#f23645"/>
<rect x="758.42" y="171.00" width="1" height="18.67" fill="#f23645"/>
<rect x="757.47" y="174.67" width="2.9" height="13.00" fill="#f23645"/>
<rect x="762.29" y="181.67" width="1" height="42.00" fill="#f23645"/>
<rect x="761.34" y="187.50" width="2.9" height="25.00" fill="#f23645"/>
<rect x="766.16" y="208.33" width="1" height="13.34" fill="#089981"/>
<rect x="765.21" y="210.00" width="2.9" height="2.83" fill="#089981"/>
<rect x="770.03" y="210.50" width="1" height="4.00" fill="#f23645"/>
<rect x="769.08" y="210.83" width="2.9" height="2.00" fill="#f23645"/>
<rect x="773.90" y="212.83" width="1" height="18.00" fill="#f23645"/>
<rect x="772.95" y="213.00" width="2.9" height="14.50" fill="#f23645"/>
<rect x="777.77" y="213.83" width="1" height="15.84" fill="#089981"/>
<rect x="776.82" y="219.17" width="2.9" height="8.66" fill="#089981"/>
<rect x="781.64" y="217.50" width="1" height="17.17" fill="#f23645"/>
<rect x="780.69" y="218.00" width="2.9" height="12.83" fill="#f23645"/>
<rect x="785.52" y="218.67" width="1" height="12.66" fill="#089981"/>
<rect x="784.57" y="222.50" width="2.9" height="8.33" fill="#089981"/>
<rect x="789.39" y="219.67" width="1" height="6.66" fill="#f23645"/>
<rect x="788.44" y="222.42" width="2.9" height="1.00" fill="#f23645"/>
<rect x="793.26" y="217.00" width="1" height="7.67" fill="#089981"/>
<rect x="792.31" y="219.67" width="2.9" height="2.83" fill="#089981"/>
<rect x="797.13" y="218.67" width="1" height="15.50" fill="#f23645"/>
<rect x="796.18" y="219.50" width="2.9" height="8.33" fill="#f23645"/>
<rect x="801.00" y="225.83" width="1" height="12.50" fill="#f23645"/>
<rect x="800.05" y="228.33" width="2.9" height="8.00" fill="#f23645"/>
<rect x="804.87" y="235.83" width="1" height="39.67" fill="#f23645"/>
<rect x="803.92" y="236.33" width="2.9" height="15.00" fill="#f23645"/>
<rect x="808.74" y="247.50" width="1" height="18.83" fill="#f23645"/>
<rect x="807.79" y="251.33" width="2.9" height="12.50" fill="#f23645"/>
<rect x="812.61" y="258.09" width="1" height="26.80" fill="#f23645"/>
<rect x="811.66" y="263.83" width="2.9" height="15.06" fill="#f23645"/>
<rect x="816.48" y="277.23" width="1" height="48.51" fill="#f23645"/>
<rect x="815.53" y="278.89" width="2.9" height="38.56" fill="#f23645"/>
<rect x="820.35" y="311.06" width="1" height="12.51" fill="#f23645"/>
<rect x="819.40" y="316.94" width="2.9" height="1.00" fill="#f23645"/>
<rect x="824.22" y="316.17" width="1" height="4.85" fill="#089981"/>
<rect x="823.27" y="317.06" width="2.9" height="1.41" fill="#089981"/>
</g>
<line x1="6.5" y1="176.1" x2="1021.7" y2="176.1" stroke="#565656" stroke-width="1.25"/>
<line x1="441" y1="110.7" x2="890" y2="110.7" stroke="#2a2a2a" stroke-width="0.9"/>
<line x1="441" y1="259.7" x2="890" y2="140" stroke="#2a2a2a" stroke-width="0.9"/>
<g>
<rect x="6.59" y="454.10" width="2.9" height="4.23" fill="#ff5252"/>
<rect x="10.47" y="454.10" width="2.9" height="3.90" fill="#ff5252"/>
<rect x="14.34" y="454.10" width="2.9" height="1.73" fill="#ffcdd2"/>
<rect x="18.21" y="454.10" width="2.9" height="3.40" fill="#ff5252"/>
<rect x="22.08" y="454.10" width="2.9" height="6.23" fill="#ff5252"/>
<rect x="25.95" y="454.10" width="2.9" height="4.57" fill="#ffcdd2"/>
<rect x="29.82" y="453.00" width="2.9" height="1.10" fill="#b2dfdb"/>
<rect x="33.69" y="454.10" width="2.9" height="2.57" fill="#ff5252"/>
<rect x="37.56" y="454.10" width="2.9" height="5.07" fill="#ff5252"/>
<rect x="41.43" y="454.10" width="2.9" height="7.57" fill="#ff5252"/>
<rect x="45.30" y="454.10" width="2.9" height="5.90" fill="#ffcdd2"/>
<rect x="49.17" y="454.10" width="2.9" height="3.40" fill="#ffcdd2"/>
<rect x="53.04" y="454.10" width="2.9" height="0.90" fill="#ffcdd2"/>
<rect x="56.91" y="451.67" width="2.9" height="2.43" fill="#26a69a"/>
<rect x="60.78" y="446.33" width="2.9" height="7.77" fill="#26a69a"/>
<rect x="64.65" y="443.33" width="2.9" height="10.77" fill="#26a69a"/>
<rect x="68.52" y="443.67" width="2.9" height="10.43" fill="#b2dfdb"/>
<rect x="72.39" y="443.33" width="2.9" height="10.77" fill="#26a69a"/>
<rect x="76.26" y="445.00" width="2.9" height="9.10" fill="#b2dfdb"/>
<rect x="80.13" y="448.33" width="2.9" height="5.77" fill="#b2dfdb"/>
<rect x="84.01" y="451.33" width="2.9" height="2.77" fill="#b2dfdb"/>
<rect x="87.88" y="452.50" width="2.9" height="1.60" fill="#b2dfdb"/>
<rect x="91.75" y="451.67" width="2.9" height="2.43" fill="#26a69a"/>
<rect x="95.62" y="449.50" width="2.9" height="4.60" fill="#26a69a"/>
<rect x="99.49" y="453.00" width="2.9" height="1.10" fill="#b2dfdb"/>
<rect x="103.36" y="445.33" width="2.9" height="8.77" fill="#26a69a"/>
<rect x="107.23" y="437.83" width="2.9" height="16.27" fill="#26a69a"/>
<rect x="111.10" y="432.00" width="2.9" height="22.10" fill="#26a69a"/>
<rect x="114.97" y="435.00" width="2.9" height="19.10" fill="#b2dfdb"/>
<rect x="118.84" y="436.17" width="2.9" height="17.93" fill="#b2dfdb"/>
<rect x="122.71" y="439.67" width="2.9" height="14.43" fill="#b2dfdb"/>
<rect x="126.58" y="442.50" width="2.9" height="11.60" fill="#b2dfdb"/>
<rect x="130.45" y="441.67" width="2.9" height="12.43" fill="#26a69a"/>
<rect x="134.32" y="442.17" width="2.9" height="11.93" fill="#b2dfdb"/>
<rect x="138.19" y="443.83" width="2.9" height="10.27" fill="#b2dfdb"/>
<rect x="142.06" y="447.50" width="2.9" height="6.60" fill="#b2dfdb"/>
<rect x="145.93" y="452.50" width="2.9" height="1.60" fill="#b2dfdb"/>
<rect x="149.80" y="454.10" width="2.9" height="0.90" fill="#ff5252"/>
<rect x="153.67" y="453.00" width="2.9" height="1.10" fill="#26a69a"/>
<rect x="157.54" y="453.00" width="2.9" height="1.10" fill="#26a69a"/>
<rect x="161.41" y="450.33" width="2.9" height="3.77" fill="#26a69a"/>
<rect x="165.29" y="454.10" width="2.9" height="2.23" fill="#ff5252"/>
<rect x="169.16" y="454.10" width="2.9" height="6.73" fill="#ff5252"/>
<rect x="173.03" y="454.10" width="2.9" height="11.23" fill="#ff5252"/>
<rect x="176.90" y="454.10" width="2.9" height="19.57" fill="#ff5252"/>
<rect x="180.77" y="454.10" width="2.9" height="27.90" fill="#ff5252"/>
<rect x="184.64" y="454.10" width="2.9" height="32.07" fill="#ff5252"/>
<rect x="188.51" y="454.10" width="2.9" height="30.90" fill="#ffcdd2"/>
<rect x="192.38" y="454.10" width="2.9" height="29.23" fill="#ffcdd2"/>
<rect x="196.25" y="454.10" width="2.9" height="27.57" fill="#ffcdd2"/>
<rect x="200.12" y="454.10" width="2.9" height="19.23" fill="#ffcdd2"/>
<rect x="203.99" y="454.10" width="2.9" height="14.73" fill="#ffcdd2"/>
<rect x="207.86" y="454.10" width="2.9" height="9.57" fill="#ffcdd2"/>
<rect x="211.73" y="454.10" width="2.9" height="7.57" fill="#ffcdd2"/>
<rect x="215.60" y="454.10" width="2.9" height="4.73" fill="#ffcdd2"/>
<rect x="219.47" y="453.00" width="2.9" height="1.10" fill="#26a69a"/>
<rect x="223.34" y="451.33" width="2.9" height="2.77" fill="#26a69a"/>
<rect x="227.21" y="451.17" width="2.9" height="2.93" fill="#26a69a"/>
<rect x="231.08" y="450.00" width="2.9" height="4.10" fill="#26a69a"/>
<rect x="234.95" y="447.00" width="2.9" height="7.10" fill="#26a69a"/>
<rect x="238.82" y="444.17" width="2.9" height="9.93" fill="#26a69a"/>
<rect x="242.70" y="443.00" width="2.9" height="11.10" fill="#26a69a"/>
<rect x="246.57" y="445.00" width="2.9" height="9.10" fill="#b2dfdb"/>
<rect x="250.44" y="442.00" width="2.9" height="12.10" fill="#26a69a"/>
<rect x="254.31" y="440.83" width="2.9" height="13.27" fill="#26a69a"/>
<rect x="258.18" y="445.00" width="2.9" height="9.10" fill="#b2dfdb"/>
<rect x="262.05" y="449.50" width="2.9" height="4.60" fill="#b2dfdb"/>
<rect x="265.92" y="454.10" width="2.9" height="2.90" fill="#ff5252"/>
<rect x="269.79" y="454.10" width="2.9" height="6.23" fill="#ff5252"/>
<rect x="273.66" y="454.10" width="2.9" height="6.73" fill="#ff5252"/>
<rect x="277.53" y="454.10" width="2.9" height="3.40" fill="#ffcdd2"/>
<rect x="281.40" y="454.10" width="2.9" height="1.40" fill="#ffcdd2"/>
<rect x="285.27" y="453.00" width="2.9" height="1.10" fill="#26a69a"/>
<rect x="289.14" y="452.00" width="2.9" height="2.10" fill="#26a69a"/>
<rect x="293.01" y="452.17" width="2.9" height="1.93" fill="#26a69a"/>
<rect x="296.88" y="452.00" width="2.9" height="2.10" fill="#26a69a"/>
<rect x="300.75" y="450.83" width="2.9" height="3.27" fill="#26a69a"/>
<rect x="304.62" y="450.00" width="2.9" height="4.10" fill="#26a69a"/>
<rect x="308.49" y="448.83" width="2.9" height="5.27" fill="#26a69a"/>
<rect x="312.36" y="449.33" width="2.9" height="4.77" fill="#b2dfdb"/>
<rect x="316.23" y="449.67" width="2.9" height="4.43" fill="#b2dfdb"/>
<rect x="320.11" y="453.33" width="2.9" height="0.77" fill="#b2dfdb"/>
<rect x="323.98" y="454.10" width="2.9" height="3.57" fill="#ff5252"/>
<rect x="327.85" y="454.10" width="2.9" height="4.07" fill="#ff5252"/>
<rect x="331.72" y="454.10" width="2.9" height="5.73" fill="#ff5252"/>
<rect x="335.59" y="454.10" width="2.9" height="7.73" fill="#ff5252"/>
<rect x="339.46" y="454.10" width="2.9" height="7.23" fill="#ffcdd2"/>
<rect x="343.33" y="454.10" width="2.9" height="8.07" fill="#ff5252"/>
<rect x="347.20" y="454.10" width="2.9" height="3.90" fill="#ffcdd2"/>
<rect x="351.07" y="454.10" width="2.9" height="1.07" fill="#ffcdd2"/>
<rect x="354.94" y="452.17" width="2.9" height="1.93" fill="#26a69a"/>
<rect x="358.81" y="451.50" width="2.9" height="2.60" fill="#26a69a"/>
<rect x="362.68" y="449.83" width="2.9" height="4.27" fill="#26a69a"/>
<rect x="366.55" y="444.33" width="2.9" height="9.77" fill="#26a69a"/>
<rect x="370.42" y="441.33" width="2.9" height="12.77" fill="#26a69a"/>
<rect x="374.29" y="439.33" width="2.9" height="14.77" fill="#26a69a"/>
<rect x="378.16" y="438.83" width="2.9" height="15.27" fill="#26a69a"/>
<rect x="382.03" y="438.17" width="2.9" height="15.93" fill="#26a69a"/>
<rect x="385.90" y="439.00" width="2.9" height="15.10" fill="#b2dfdb"/>
<rect x="389.77" y="440.67" width="2.9" height="13.43" fill="#b2dfdb"/>
<rect x="393.65" y="444.33" width="2.9" height="9.77" fill="#b2dfdb"/>
<rect x="397.52" y="449.00" width="2.9" height="5.10" fill="#b2dfdb"/>
<rect x="401.39" y="452.17" width="2.9" height="1.93" fill="#b2dfdb"/>
<rect x="405.26" y="454.10" width="2.9" height="1.90" fill="#ff5252"/>
<rect x="409.13" y="454.10" width="2.9" height="3.90" fill="#ff5252"/>
<rect x="413.00" y="454.10" width="2.9" height="4.73" fill="#ff5252"/>
<rect x="416.87" y="454.10" width="2.9" height="3.07" fill="#ffcdd2"/>
<rect x="420.74" y="454.10" width="2.9" height="1.40" fill="#ffcdd2"/>
<rect x="424.61" y="454.10" width="2.9" height="0.73" fill="#ffcdd2"/>
<rect x="428.48" y="454.10" width="2.9" height="3.07" fill="#ff5252"/>
<rect x="432.35" y="454.10" width="2.9" height="2.40" fill="#ffcdd2"/>
<rect x="436.22" y="454.10" width="2.9" height="1.57" fill="#ffcdd2"/>
<rect x="440.09" y="454.10" width="2.9" height="1.07" fill="#ffcdd2"/>
<rect x="443.96" y="454.10" width="2.9" height="2.40" fill="#ff5252"/>
<rect x="447.83" y="454.10" width="2.9" height="3.07" fill="#ff5252"/>
<rect x="451.70" y="454.10" width="2.9" height="3.57" fill="#ff5252"/>
<rect x="455.57" y="454.10" width="2.9" height="3.90" fill="#ff5252"/>
<rect x="459.44" y="454.10" width="2.9" height="2.73" fill="#ffcdd2"/>
<rect x="463.31" y="454.10" width="2.9" height="1.57" fill="#ffcdd2"/>
<rect x="467.18" y="454.10" width="2.9" height="1.07" fill="#ffcdd2"/>
<rect x="471.05" y="454.10" width="2.9" height="0.57" fill="#ffcdd2"/>
<rect x="474.93" y="453.00" width="2.9" height="1.10" fill="#26a69a"/>
<rect x="478.80" y="453.00" width="2.9" height="1.10" fill="#26a69a"/>
<rect x="482.67" y="450.17" width="2.9" height="3.93" fill="#26a69a"/>
<rect x="486.54" y="448.50" width="2.9" height="5.60" fill="#26a69a"/>
<rect x="490.41" y="446.83" width="2.9" height="7.27" fill="#26a69a"/>
<rect x="494.28" y="442.67" width="2.9" height="11.43" fill="#26a69a"/>
<rect x="498.15" y="438.50" width="2.9" height="15.60" fill="#26a69a"/>
<rect x="502.02" y="437.67" width="2.9" height="16.43" fill="#26a69a"/>
<rect x="505.89" y="436.83" width="2.9" height="17.27" fill="#26a69a"/>
<rect x="509.76" y="436.50" width="2.9" height="17.60" fill="#26a69a"/>
<rect x="513.63" y="434.83" width="2.9" height="19.27" fill="#26a69a"/>
<rect x="517.50" y="435.50" width="2.9" height="18.60" fill="#b2dfdb"/>
<rect x="521.37" y="441.00" width="2.9" height="13.10" fill="#b2dfdb"/>
<rect x="525.24" y="442.17" width="2.9" height="11.93" fill="#b2dfdb"/>
<rect x="529.11" y="444.00" width="2.9" height="10.10" fill="#b2dfdb"/>
<rect x="532.98" y="444.83" width="2.9" height="9.27" fill="#b2dfdb"/>
<rect x="536.85" y="446.00" width="2.9" height="8.10" fill="#b2dfdb"/>
<rect x="540.72" y="448.00" width="2.9" height="6.10" fill="#b2dfdb"/>
<rect x="544.59" y="444.00" width="2.9" height="10.10" fill="#26a69a"/>
<rect x="548.47" y="445.17" width="2.9" height="8.93" fill="#b2dfdb"/>
<rect x="552.34" y="445.67" width="2.9" height="8.43" fill="#b2dfdb"/>
<rect x="556.21" y="445.17" width="2.9" height="8.93" fill="#26a69a"/>
<rect x="560.08" y="446.83" width="2.9" height="7.27" fill="#b2dfdb"/>
<rect x="563.95" y="450.50" width="2.9" height="3.60" fill="#b2dfdb"/>
<rect x="567.82" y="454.10" width="2.9" height="0.73" fill="#ff5252"/>
<rect x="571.69" y="454.10" width="2.9" height="2.23" fill="#ff5252"/>
<rect x="575.56" y="454.10" width="2.9" height="0.57" fill="#ffcdd2"/>
<rect x="579.43" y="452.17" width="2.9" height="1.93" fill="#26a69a"/>
<rect x="583.30" y="451.00" width="2.9" height="3.10" fill="#26a69a"/>
<rect x="591.04" y="454.10" width="2.9" height="3.23" fill="#ff5252"/>
<rect x="594.91" y="454.10" width="2.9" height="1.40" fill="#ffcdd2"/>
<rect x="598.78" y="454.10" width="2.9" height="1.40" fill="#ffcdd2"/>
<rect x="602.65" y="454.10" width="2.9" height="0.57" fill="#ffcdd2"/>
<rect x="606.52" y="454.10" width="2.9" height="2.40" fill="#ff5252"/>
<rect x="610.39" y="453.00" width="2.9" height="1.10" fill="#26a69a"/>
<rect x="614.26" y="451.83" width="2.9" height="2.27" fill="#26a69a"/>
<rect x="618.13" y="452.33" width="2.9" height="1.77" fill="#b2dfdb"/>
<rect x="622.00" y="450.17" width="2.9" height="3.93" fill="#26a69a"/>
<rect x="625.87" y="453.50" width="2.9" height="0.60" fill="#b2dfdb"/>
<rect x="629.75" y="454.10" width="2.9" height="2.40" fill="#ff5252"/>
<rect x="633.62" y="454.10" width="2.9" height="6.90" fill="#ff5252"/>
<rect x="637.49" y="454.10" width="2.9" height="12.40" fill="#ff5252"/>
<rect x="641.36" y="454.10" width="2.9" height="14.73" fill="#ff5252"/>
<rect x="645.23" y="454.10" width="2.9" height="16.40" fill="#ff5252"/>
<rect x="649.10" y="454.10" width="2.9" height="15.23" fill="#ffcdd2"/>
<rect x="652.97" y="454.10" width="2.9" height="19.07" fill="#ff5252"/>
<rect x="656.84" y="454.10" width="2.9" height="22.73" fill="#ff5252"/>
<rect x="660.71" y="454.10" width="2.9" height="25.23" fill="#ff5252"/>
<rect x="664.58" y="454.10" width="2.9" height="24.73" fill="#ffcdd2"/>
<rect x="668.45" y="454.10" width="2.9" height="21.90" fill="#ffcdd2"/>
<rect x="672.32" y="454.10" width="2.9" height="20.23" fill="#ffcdd2"/>
<rect x="676.19" y="454.10" width="2.9" height="18.07" fill="#ffcdd2"/>
<rect x="680.06" y="454.10" width="2.9" height="14.73" fill="#ffcdd2"/>
<rect x="683.93" y="454.10" width="2.9" height="11.07" fill="#ffcdd2"/>
<rect x="687.80" y="454.10" width="2.9" height="7.23" fill="#ffcdd2"/>
<rect x="691.67" y="454.10" width="2.9" height="3.57" fill="#ffcdd2"/>
<rect x="695.54" y="454.10" width="2.9" height="1.90" fill="#ffcdd2"/>
<rect x="699.41" y="454.10" width="2.9" height="0.57" fill="#ffcdd2"/>
<rect x="711.03" y="450.17" width="2.9" height="3.93" fill="#26a69a"/>
<rect x="714.90" y="440.50" width="2.9" height="13.60" fill="#26a69a"/>
<rect x="718.77" y="436.83" width="2.9" height="17.27" fill="#26a69a"/>
<rect x="722.64" y="437.33" width="2.9" height="16.77" fill="#b2dfdb"/>
<rect x="726.51" y="436.83" width="2.9" height="17.27" fill="#b2dfdb"/>
<rect x="730.38" y="435.50" width="2.9" height="18.60" fill="#26a69a"/>
<rect x="734.25" y="434.33" width="2.9" height="19.77" fill="#26a69a"/>
<rect x="738.12" y="435.17" width="2.9" height="18.93" fill="#b2dfdb"/>
<rect x="741.99" y="438.17" width="2.9" height="15.93" fill="#b2dfdb"/>
<rect x="745.86" y="442.67" width="2.9" height="11.43" fill="#b2dfdb"/>
<rect x="749.73" y="447.67" width="2.9" height="6.43" fill="#b2dfdb"/>
<rect x="753.60" y="454.10" width="2.9" height="1.57" fill="#ff5252"/>
<rect x="757.47" y="454.10" width="2.9" height="9.40" fill="#ff5252"/>
<rect x="761.34" y="454.10" width="2.9" height="18.23" fill="#ff5252"/>
<rect x="765.21" y="454.10" width="2.9" height="22.40" fill="#ff5252"/>
<rect x="769.08" y="454.10" width="2.9" height="24.40" fill="#ff5252"/>
<rect x="772.95" y="454.10" width="2.9" height="27.40" fill="#ff5252"/>
<rect x="776.82" y="454.10" width="2.9" height="26.07" fill="#ffcdd2"/>
<rect x="780.69" y="454.10" width="2.9" height="25.23" fill="#ffcdd2"/>
<rect x="784.57" y="454.10" width="2.9" height="21.57" fill="#ffcdd2"/>
<rect x="788.44" y="454.10" width="2.9" height="19.40" fill="#ffcdd2"/>
<rect x="792.31" y="454.10" width="2.9" height="15.23" fill="#ffcdd2"/>
<rect x="796.18" y="454.10" width="2.9" height="13.57" fill="#ffcdd2"/>
<rect x="800.05" y="454.10" width="2.9" height="12.40" fill="#ffcdd2"/>
<rect x="803.92" y="454.10" width="2.9" height="13.90" fill="#ff5252"/>
<rect x="807.79" y="454.10" width="2.9" height="15.23" fill="#ff5252"/>
<rect x="811.66" y="454.10" width="2.9" height="17.73" fill="#ff5252"/>
<rect x="815.53" y="454.10" width="2.9" height="24.73" fill="#ff5252"/>
<rect x="819.40" y="454.10" width="2.9" height="27.73" fill="#ff5252"/>
<rect x="823.27" y="454.10" width="2.9" height="27.40" fill="#ffcdd2"/>
</g>
<polyline points="6.5,489.51 8.04,489.90 11.92,490.88 15.79,491.32 19.66,492.17 23.53,493.73 27.40,494.87 31.27,494.60 35.14,495.25 39.01,496.52 42.88,498.41 46.75,499.89 50.62,500.74 54.49,500.97 58.36,500.36 62.23,498.42 66.10,495.73 69.97,493.08 73.84,490.35 77.71,488.03 81.58,486.55 85.46,485.82 89.33,485.38 93.20,484.73 97.07,483.53 100.94,483.22 104.81,480.98 108.68,476.87 112.55,471.31 116.42,466.49 120.29,461.97 124.16,458.32 128.03,455.39 131.90,452.26 135.77,449.25 139.64,446.66 143.51,444.98 147.38,444.56 151.25,444.76 155.12,444.46 158.99,444.16 162.86,443.19 166.74,443.72 170.61,445.38 174.48,448.17 178.35,453.03 182.22,459.98 186.09,467.96 189.96,475.64 193.83,482.91 197.70,489.76 201.57,494.53 205.44,498.17 209.31,500.52 213.18,502.37 217.05,503.52 220.92,503.20 224.79,502.47 228.66,501.69 232.53,500.63 236.40,498.81 240.27,496.29 244.15,493.48 248.02,491.16 251.89,488.10 255.76,484.75 259.63,482.44 263.50,481.25 267.37,481.94 271.24,483.46 275.11,485.10 278.98,485.92 282.85,486.23 286.72,485.92 290.59,485.35 294.46,484.83 298.33,484.27 302.20,483.44 306.07,482.39 309.94,481.06 313.81,479.84 317.68,478.72 321.56,478.51 325.43,479.38 329.30,480.38 333.17,481.79 337.04,483.70 340.91,485.49 344.78,487.49 348.65,488.45 352.52,488.69 356.39,488.19 360.26,487.54 364.13,486.47 368.00,484.03 371.87,480.84 375.74,477.15 379.61,473.33 383.48,469.34 387.35,465.57 391.22,462.21 395.10,459.77 398.97,458.49 402.84,458.01 406.71,458.48 410.58,459.45 414.45,460.64 418.32,461.48 422.19,461.91 426.06,462.17 429.93,463.02 433.80,463.70 437.67,464.17 441.54,464.51 445.41,465.19 449.28,466.04 453.15,467.01 457.02,468.06 460.89,468.83 464.76,469.30 468.63,469.64 472.50,469.86 476.38,469.53 480.25,469.20 484.12,468.16 487.99,466.71 491.86,464.84 495.73,461.93 499.60,457.97 503.47,453.81 507.34,449.44 511.21,444.98 515.08,440.11 518.95,435.41 522.82,432.08 526.69,429.04 530.56,426.46 534.43,424.13 538.30,422.10 542.17,420.56 546.04,418.03 549.92,415.79 553.79,413.67 557.66,411.43 561.53,409.60 565.40,408.69 569.27,408.86 573.14,409.41 577.01,409.54 580.88,409.05 584.75,408.27 588.62,408.19 592.49,409.02 596.36,409.39 600.23,409.77 604.10,409.93 607.97,410.55 611.84,410.30 615.71,409.76 619.58,409.34 623.45,408.38 627.32,408.25 631.20,408.87 635.07,410.62 638.94,413.74 642.81,417.45 646.68,421.57 650.55,425.41 654.42,430.21 658.29,435.93 662.16,442.26 666.03,448.48 669.90,453.98 673.77,459.07 677.64,463.62 681.51,467.34 685.38,470.13 689.25,471.97 693.12,472.90 696.99,473.40 700.86,473.57 704.73,473.66 708.61,473.71 712.48,472.72 716.35,469.32 720.22,464.99 724.09,460.79 727.96,456.47 731.83,451.81 735.70,446.86 739.57,442.12 743.44,438.13 747.31,435.26 751.18,433.65 755.05,434.03 758.92,436.37 762.79,440.92 766.66,446.65 770.53,453.88 774.40,462.49 778.27,466.14 782.14,472.30 786.02,479.24 789.89,484.85 793.76,488.85 797.63,492.07 801.50,495.17 805.37,498.40 809.24,501.97 813.11,506.09 816.98,511.99 820.85,519.21 824.72,524.64" fill="none" stroke="#ff6d00" stroke-width="0.9" stroke-linejoin="round"/>
<polyline points="6.5,493.89 8.04,494.14 11.92,494.78 15.79,493.05 19.66,495.57 23.53,499.96 27.40,499.44 31.27,493.50 35.14,497.81 39.01,501.58 42.88,505.98 46.75,505.79 50.62,504.14 54.49,501.87 58.36,497.93 62.23,490.66 66.10,484.97 69.97,482.65 73.84,479.58 77.71,478.93 81.58,480.78 85.46,483.05 89.33,483.78 93.20,482.29 97.07,478.93 100.94,482.12 104.81,472.22 108.68,460.61 112.55,449.21 116.42,447.39 120.29,444.03 124.16,443.88 128.03,443.79 131.90,439.82 135.77,437.32 139.64,436.39 143.51,438.38 147.38,442.96 151.25,445.66 155.12,443.36 158.99,443.06 162.86,439.42 166.74,445.96 170.61,452.12 174.48,459.40 178.35,472.60 182.22,487.88 186.09,500.02 189.96,506.54 193.83,512.14 197.70,517.33 201.57,513.76 205.44,512.90 209.31,510.09 213.18,509.94 217.05,508.25 220.92,502.10 224.79,499.70 228.66,498.76 232.53,496.53 236.40,491.71 240.27,486.36 244.15,482.38 248.02,482.06 251.89,476.00 255.76,471.48 259.63,473.34 263.50,476.65 267.37,484.84 271.24,489.69 275.11,491.84 278.98,489.32 282.85,487.63 286.72,484.82 290.59,483.25 294.46,482.90 298.33,482.17 302.20,480.17 306.07,478.29 309.94,475.79 313.81,475.08 317.68,474.28 321.56,477.74 325.43,482.95 329.30,484.44 333.17,487.52 337.04,491.44 340.91,492.73 344.78,495.56 348.65,492.35 352.52,489.76 356.39,486.26 360.26,484.94 364.13,482.21 368.00,474.26 371.87,468.07 375.74,462.38 379.61,458.06 383.48,453.41 387.35,450.47 391.22,448.77 395.10,450.00 398.97,453.39 402.84,456.07 406.71,460.38 410.58,463.35 414.45,465.37 418.32,464.55 422.19,463.31 426.06,462.91 429.93,466.09 433.80,466.10 437.67,465.73 441.54,465.58 445.41,467.59 449.28,469.11 453.15,470.58 457.02,471.96 460.89,471.56 464.76,470.86 468.63,470.71 472.50,470.43 476.38,468.43 480.25,468.10 484.12,464.23 487.99,461.11 491.86,457.57 495.73,450.49 499.60,442.37 503.47,437.37 507.34,432.17 511.21,427.38 515.08,420.84 518.95,416.81 522.82,418.98 526.69,417.10 530.56,416.36 534.43,414.87 538.30,414.00 542.17,414.46 546.04,407.93 549.92,406.85 553.79,405.23 557.66,402.49 561.53,402.33 565.40,405.09 569.27,409.60 573.14,411.65 577.01,410.11 580.88,407.12 584.75,405.17 588.62,407.92 592.49,412.25 596.36,410.79 600.23,411.17 604.10,410.50 607.97,412.95 611.84,409.20 615.71,407.49 619.58,407.57 623.45,404.45 627.32,407.65 631.20,411.27 635.07,417.52 638.94,426.14 642.81,432.18 646.68,437.97 650.55,440.65 654.42,449.28 658.29,458.66 662.16,467.50 666.03,473.21 669.90,475.88 673.77,479.31 677.64,481.69 681.51,482.07 685.38,481.20 689.25,479.21 693.12,476.46 696.99,475.30 700.86,474.14 704.73,473.90 708.61,473.95 712.48,468.79 716.35,455.72 720.22,447.72 724.09,444.02 727.96,439.20 731.83,433.21 735.70,427.09 739.57,423.19 743.44,422.19 747.31,423.83 751.18,427.21 755.05,435.60 758.92,445.77 762.79,459.16 766.66,469.05 770.53,477.59 774.40,485.69 778.27,492.24 782.14,498.11 786.02,500.71 789.89,501.51 793.76,501.88 797.63,503.56 801.50,506.69 805.37,512.00 809.24,516.90 813.11,523.56 816.98,534.39 820.85,544.78 824.72,551.77" fill="none" stroke="#2962ff" stroke-width="0.9" stroke-linejoin="round"/>
<text x="6.50" y="13.80" font-size="8.6" fill="#131722" stroke="#131722" stroke-width="0.25" text-anchor="start" textLength="244.50" lengthAdjust="spacingAndGlyphs">Find_co created with TradingView.com, Sep 22, 2025 13:12 UTC</text>
<text x="12.50" y="32.00" font-size="8.6" fill="#1f2023" stroke="#1f2023" stroke-width="0.25" text-anchor="start" textLength="115.50" lengthAdjust="spacingAndGlyphs">FARTCOIN / USDT · 4h · MEXC</text>
<text x="133.25" y="32.00" font-size="8.6" fill="#1f2023" stroke="#1f2023" stroke-width="0.25" text-anchor="start" textLength="6.00" lengthAdjust="spacingAndGlyphs">O</text>
<text x="139.50" y="32.00" font-size="8.6" fill="#089981" stroke="#089981" stroke-width="0.25" text-anchor="start" textLength="31.75" lengthAdjust="spacingAndGlyphs">0.62252</text>
<text x="176.25" y="32.00" font-size="8.6" fill="#1f2023" stroke="#1f2023" stroke-width="0.25" text-anchor="start" textLength="5.50" lengthAdjust="spacingAndGlyphs">H</text>
<text x="182.00" y="32.00" font-size="8.6" fill="#089981" stroke="#089981" stroke-width="0.25" text-anchor="start" textLength="31.25" lengthAdjust="spacingAndGlyphs">0.62476</text>
<text x="219.00" y="32.00" font-size="8.6" fill="#1f2023" stroke="#1f2023" stroke-width="0.25" text-anchor="start" textLength="3.50" lengthAdjust="spacingAndGlyphs">L</text>
<text x="222.75" y="32.00" font-size="8.6" fill="#089981" stroke="#089981" stroke-width="0.25" text-anchor="start" textLength="30.25" lengthAdjust="spacingAndGlyphs">0.61736</text>
<text x="258.00" y="32.00" font-size="8.6" fill="#1f2023" stroke="#1f2023" stroke-width="0.25" text-anchor="start" textLength="5.80" lengthAdjust="spacingAndGlyphs">C</text>
<text x="264.00" y="32.00" font-size="8.6" fill="#089981" stroke="#089981" stroke-width="0.25" text-anchor="start" textLength="31.50" lengthAdjust="spacingAndGlyphs">0.62264</text>
<text x="300.75" y="32.00" font-size="8.6" fill="#089981" stroke="#089981" stroke-width="0.25" text-anchor="start" textLength="74.00" lengthAdjust="spacingAndGlyphs">+0.00004 (+0.01%)</text>
<text x="12.50" y="42.50" font-size="8.6" fill="#1f2023" stroke="#1f2023" stroke-width="0.25" text-anchor="start" textLength="58.25" lengthAdjust="spacingAndGlyphs">Vol · FARTCOIN</text>
<text x="76.25" y="42.50" font-size="8.6" fill="#26a69a" stroke="#26a69a" stroke-width="0.25" text-anchor="start" textLength="27.50" lengthAdjust="spacingAndGlyphs">117.17 K</text>
<text x="12.50" y="398.30" font-size="8.6" fill="#1f2023" stroke="#1f2023" stroke-width="0.25" text-anchor="start" textLength="79.50" lengthAdjust="spacingAndGlyphs">MACD (12, 26, close)</text>
<text x="97.50" y="398.30" font-size="8.6" fill="#ffcdd2" stroke="#ffcdd2" stroke-width="0.25" text-anchor="start" textLength="34.25" lengthAdjust="spacingAndGlyphs">−0.01574</text>
<text x="137.50" y="398.30" font-size="8.6" fill="#2962ff" stroke="#2962ff" stroke-width="0.25" text-anchor="start" textLength="36.75" lengthAdjust="spacingAndGlyphs">−0.05636</text>
<text x="180.00" y="398.30" font-size="8.6" fill="#ff6d00" stroke="#ff6d00" stroke-width="0.25" text-anchor="start" textLength="36.25" lengthAdjust="spacingAndGlyphs">−0.04062</text>
<clipPath id="cp1"><rect x="1021.7" y="18.5" width="51.5" height="366.0"/></clipPath>
<clipPath id="cp2"><rect x="1021.7" y="384.5" width="51.5" height="186.79999999999995"/></clipPath>
<g clip-path="url(#cp1)">
<text x="1028.30" y="22.33" font-size="8.6" fill="#1f2023" stroke="#1f2023" stroke-width="0.25" text-anchor="start" textLength="32.50" lengthAdjust="spacingAndGlyphs">1.10000</text>
<text x="1028.30" y="53.60" font-size="8.6" fill="#1f2023" stroke="#1f2023" stroke-width="0.25" text-anchor="start" textLength="32.50" lengthAdjust="spacingAndGlyphs">1.05000</text>
<text x="1028.30" y="84.87" font-size="8.6" fill="#1f2023" stroke="#1f2023" stroke-width="0.25" text-anchor="start" textLength="32.50" lengthAdjust="spacingAndGlyphs">1.00000</text>
<text x="1028.30" y="116.14" font-size="8.6" fill="#1f2023" stroke="#1f2023" stroke-width="0.25" text-anchor="start" textLength="32.50" lengthAdjust="spacingAndGlyphs">0.95000</text>
<text x="1028.30" y="147.41" font-size="8.6" fill="#1f2023" stroke="#1f2023" stroke-width="0.25" text-anchor="start" textLength="32.50" lengthAdjust="spacingAndGlyphs">0.90000</text>
<text x="1028.30" y="178.68" font-size="8.6" fill="#1f2023" stroke="#1f2023" stroke-width="0.25" text-anchor="start" textLength="32.50" lengthAdjust="spacingAndGlyphs">0.85000</text>
<text x="1028.30" y="209.95" font-size="8.6" fill="#1f2023" stroke="#1f2023" stroke-width="0.25" text-anchor="start" textLength="32.50" lengthAdjust="spacingAndGlyphs">0.80000</text>
<text x="1028.30" y="241.22" font-size="8.6" fill="#1f2023" stroke="#1f2023" stroke-width="0.25" text-anchor="start" textLength="32.50" lengthAdjust="spacingAndGlyphs">0.75000</text>
<text x="1028.30" y="272.49" font-size="8.6" fill="#1f2023" stroke="#1f2023" stroke-width="0.25" text-anchor="start" textLength="32.50" lengthAdjust="spacingAndGlyphs">0.70000</text>
<text x="1028.30" y="303.76" font-size="8.6" fill="#1f2023" stroke="#1f2023" stroke-width="0.25" text-anchor="start" textLength="32.50" lengthAdjust="spacingAndGlyphs">0.65000</text>
<text x="1028.30" y="335.03" font-size="8.6" fill="#1f2023" stroke="#1f2023" stroke-width="0.25" text-anchor="start" textLength="32.50" lengthAdjust="spacingAndGlyphs">0.60000</text>
<text x="1028.30" y="366.30" font-size="8.6" fill="#1f2023" stroke="#1f2023" stroke-width="0.25" text-anchor="start" textLength="32.50" lengthAdjust="spacingAndGlyphs">0.55000</text>
</g>
<g clip-path="url(#cp2)">
<text x="1028.30" y="388.00" font-size="8.6" fill="#1f2023" stroke="#1f2023" stroke-width="0.25" text-anchor="start" textLength="32.50" lengthAdjust="spacingAndGlyphs">0.04000</text>
<text x="1028.30" y="422.70" font-size="8.6" fill="#1f2023" stroke="#1f2023" stroke-width="0.25" text-anchor="start" textLength="32.50" lengthAdjust="spacingAndGlyphs">0.02000</text>
<text x="1028.30" y="457.40" font-size="8.6" fill="#1f2023" stroke="#1f2023" stroke-width="0.25" text-anchor="start" textLength="32.50" lengthAdjust="spacingAndGlyphs">0.00000</text>
<text x="1028.30" y="492.10" font-size="8.6" fill="#1f2023" stroke="#1f2023" stroke-width="0.25" text-anchor="start" textLength="37.50" lengthAdjust="spacingAndGlyphs">−0.02000</text>
<text x="1028.30" y="526.80" font-size="8.6" fill="#1f2023" stroke="#1f2023" stroke-width="0.25" text-anchor="start" textLength="37.50" lengthAdjust="spacingAndGlyphs">−0.04000</text>
<text x="1028.30" y="561.50" font-size="8.6" fill="#1f2023" stroke="#1f2023" stroke-width="0.25" text-anchor="start" textLength="37.50" lengthAdjust="spacingAndGlyphs">−0.06000</text>
</g>
<rect x="1022.10" y="170.30" width="42.30" height="11.40" rx="1.2" fill="#000"/>
<text x="1028.00" y="179.20" font-size="8.6" fill="#fff" stroke="#fff" stroke-width="0.08" text-anchor="start" textLength="32.80" lengthAdjust="spacingAndGlyphs">0.84919</text>
<rect x="953.00" y="312.10" width="68.40" height="10.90" rx="1.2" fill="#089981"/>
<text x="956.50" y="320.75" font-size="8.6" fill="#fff" stroke="#fff" stroke-width="0.08" text-anchor="start" textLength="61.50" lengthAdjust="spacingAndGlyphs">FARTCOINUSDT</text>
<rect x="1022.2" y="311.6" width="44.8" height="21" rx="1.2" fill="#089981"/>
<text x="1028.30" y="320.30" font-size="8.6" fill="#fff" stroke="#fff" stroke-width="0.08" text-anchor="start" textLength="32.50" lengthAdjust="spacingAndGlyphs">0.62264</text>
<text x="1028.30" y="329.80" font-size="8.6" fill="#c9ebe5" stroke="#c9ebe5" stroke-width="0.05" text-anchor="start" textLength="33.00" lengthAdjust="spacingAndGlyphs">02:47:21</text>
<rect x="1022.20" y="372.20" width="43.40" height="11.60" rx="1.2" fill="#26a69a"/>
<text x="1028.30" y="381.20" font-size="8.6" fill="#fff" stroke="#fff" stroke-width="0.08" text-anchor="start" textLength="33.00" lengthAdjust="spacingAndGlyphs">117.17 K</text>
<rect x="1022.20" y="476.20" width="47.80" height="10.50" rx="1.2" fill="#ffcdd2"/>
<text x="1028.30" y="484.65" font-size="8.6" fill="#1f2023" stroke="#1f2023" stroke-width="0.25" text-anchor="start" textLength="37.50" lengthAdjust="spacingAndGlyphs">−0.01574</text>
<rect x="1022.20" y="519.10" width="47.80" height="11.60" rx="1.2" fill="#ff6d00"/>
<text x="1028.30" y="528.10" font-size="8.6" fill="#fff" stroke="#fff" stroke-width="0.08" text-anchor="start" textLength="37.50" lengthAdjust="spacingAndGlyphs">−0.04062</text>
<rect x="1022.20" y="546.20" width="47.80" height="11.90" rx="1.2" fill="#2962ff"/>
<text x="1028.30" y="555.35" font-size="8.6" fill="#fff" stroke="#fff" stroke-width="0.08" text-anchor="start" textLength="37.50" lengthAdjust="spacingAndGlyphs">−0.05636</text>
<rect x="0" y="571.9" width="1080" height="55.10000000000002" fill="#000"/>
<g fill="#fff">
<rect x="454.00" y="594.90" width="1.96" height="1.04"/>
<rect x="459.88" y="594.90" width="1.96" height="1.04"/>
<rect x="454.00" y="595.92" width="1.96" height="1.04"/>
<rect x="459.88" y="595.92" width="1.96" height="1.04"/>
<rect x="454.00" y="596.94" width="1.96" height="1.04"/>
<rect x="459.88" y="596.94" width="1.96" height="1.04"/>
<rect x="454.00" y="597.96" width="1.96" height="1.04"/>
<rect x="459.88" y="597.96" width="1.96" height="1.04"/>
<rect x="454.00" y="598.98" width="1.96" height="1.04"/>
<rect x="459.88" y="598.98" width="1.96" height="1.04"/>
<rect x="454.00" y="600.00" width="1.96" height="1.04"/>
<rect x="459.88" y="600.00" width="1.96" height="1.04"/>
<rect x="454.00" y="601.02" width="1.96" height="1.04"/>
<rect x="459.88" y="601.02" width="1.96" height="1.04"/>
<rect x="454.00" y="602.04" width="1.96" height="1.04"/>
<rect x="459.88" y="602.04" width="1.96" height="1.04"/>
<rect x="454.00" y="603.06" width="1.96" height="1.04"/>
<rect x="459.88" y="603.06" width="1.96" height="1.04"/>
<rect x="454.00" y="604.08" width="1.96" height="1.04"/>
<rect x="459.88" y="604.08" width="1.96" height="1.04"/>
<rect x="463.00" y="594.90" width="6.86" height="1.04"/>
<rect x="463.00" y="595.92" width="1.96" height="1.04"/>
<rect x="463.00" y="596.94" width="1.96" height="1.04"/>
<rect x="463.00" y="597.96" width="1.96" height="1.04"/>
<rect x="463.00" y="598.98" width="5.88" height="1.04"/>
<rect x="463.00" y="600.00" width="1.96" height="1.04"/>
<rect x="463.00" y="601.02" width="1.96" height="1.04"/>
<rect x="463.00" y="602.04" width="1.96" height="1.04"/>
<rect x="463.00" y="603.06" width="1.96" height="1.04"/>
<rect x="463.00" y="604.08" width="6.86" height="1.04"/>
<rect x="472.00" y="594.90" width="1.96" height="1.04"/>
<rect x="477.88" y="594.90" width="1.96" height="1.04"/>
<rect x="472.00" y="595.92" width="1.96" height="1.04"/>
<rect x="477.88" y="595.92" width="1.96" height="1.04"/>
<rect x="472.00" y="596.94" width="1.96" height="1.04"/>
<rect x="477.88" y="596.94" width="1.96" height="1.04"/>
<rect x="472.00" y="597.96" width="1.96" height="1.04"/>
<rect x="477.88" y="597.96" width="1.96" height="1.04"/>
<rect x="472.00" y="598.98" width="1.96" height="1.04"/>
<rect x="474.94" y="598.98" width="1.96" height="1.04"/>
<rect x="477.88" y="598.98" width="1.96" height="1.04"/>
<rect x="472.00" y="600.00" width="1.96" height="1.04"/>
<rect x="474.94" y="600.00" width="1.96" height="1.04"/>
<rect x="477.88" y="600.00" width="1.96" height="1.04"/>
<rect x="472.00" y="601.02" width="1.96" height="1.04"/>
<rect x="474.94" y="601.02" width="1.96" height="1.04"/>
<rect x="477.88" y="601.02" width="1.96" height="1.04"/>
<rect x="472.00" y="602.04" width="1.96" height="1.04"/>
<rect x="474.94" y="602.04" width="1.96" height="1.04"/>
<rect x="477.88" y="602.04" width="1.96" height="1.04"/>
<rect x="472.00" y="603.06" width="1.96" height="1.04"/>
<rect x="474.94" y="603.06" width="1.96" height="1.04"/>
<rect x="477.88" y="603.06" width="1.96" height="1.04"/>
<rect x="472.00" y="604.08" width="7.84" height="1.04"/>
<rect x="482.96" y="594.90" width="5.88" height="1.04"/>
<rect x="481.00" y="595.92" width="1.96" height="1.04"/>
<rect x="487.86" y="595.92" width="0.98" height="1.04"/>
<rect x="481.00" y="596.94" width="1.96" height="1.04"/>
<rect x="481.00" y="597.96" width="1.96" height="1.04"/>
<rect x="481.98" y="598.98" width="5.88" height="1.04"/>
<rect x="486.88" y="600.00" width="1.96" height="1.04"/>
<rect x="486.88" y="601.02" width="1.96" height="1.04"/>
<rect x="486.88" y="602.04" width="1.96" height="1.04"/>
<rect x="481.00" y="603.06" width="0.98" height="1.04"/>
<rect x="486.88" y="603.06" width="1.96" height="1.04"/>
<rect x="481.00" y="604.08" width="6.86" height="1.04"/>
<rect x="500.96" y="594.90" width="3.92" height="1.04"/>
<rect x="499.00" y="595.92" width="2.94" height="1.04"/>
<rect x="503.90" y="595.92" width="2.94" height="1.04"/>
<rect x="499.00" y="596.94" width="1.96" height="1.04"/>
<rect x="504.88" y="596.94" width="1.96" height="1.04"/>
<rect x="504.88" y="597.96" width="1.96" height="1.04"/>
<rect x="503.90" y="598.98" width="1.96" height="1.04"/>
<rect x="502.92" y="600.00" width="1.96" height="1.04"/>
<rect x="501.94" y="601.02" width="1.96" height="1.04"/>
<rect x="500.96" y="602.04" width="1.96" height="1.04"/>
<rect x="499.98" y="603.06" width="1.96" height="1.04"/>
<rect x="499.00" y="604.08" width="7.84" height="1.04"/>
<rect x="510.94" y="594.90" width="1.96" height="1.04"/>
<rect x="509.96" y="595.92" width="3.92" height="1.04"/>
<rect x="508.98" y="596.94" width="1.96" height="1.04"/>
<rect x="512.90" y="596.94" width="1.96" height="1.04"/>
<rect x="508.00" y="597.96" width="1.96" height="1.04"/>
<rect x="513.88" y="597.96" width="1.96" height="1.04"/>
<rect x="508.00" y="598.98" width="1.96" height="1.04"/>
<rect x="513.88" y="598.98" width="1.96" height="1.04"/>
<rect x="508.00" y="600.00" width="1.96" height="1.04"/>
<rect x="513.88" y="600.00" width="1.96" height="1.04"/>
<rect x="508.00" y="601.02" width="1.96" height="1.04"/>
<rect x="513.88" y="601.02" width="1.96" height="1.04"/>
<rect x="508.98" y="602.04" width="1.96" height="1.04"/>
<rect x="512.90" y="602.04" width="1.96" height="1.04"/>
<rect x="509.96" y="603.06" width="3.92" height="1.04"/>
<rect x="510.94" y="604.08" width="1.96" height="1.04"/>
<rect x="518.96" y="594.90" width="3.92" height="1.04"/>
<rect x="517.00" y="595.92" width="2.94" height="1.04"/>
<rect x="521.90" y="595.92" width="2.94" height="1.04"/>
<rect x="517.00" y="596.94" width="1.96" height="1.04"/>
<rect x="522.88" y="596.94" width="1.96" height="1.04"/>
<rect x="522.88" y="597.96" width="1.96" height="1.04"/>
<rect x="521.90" y="598.98" width="1.96" height="1.04"/>
<rect x="520.92" y="600.00" width="1.96" height="1.04"/>
<rect x="519.94" y="601.02" width="1.96" height="1.04"/>
<rect x="518.96" y="602.04" width="1.96" height="1.04"/>
<rect x="517.98" y="603.06" width="1.96" height="1.04"/>
<rect x="517.00" y="604.08" width="7.84" height="1.04"/>
<rect x="528.94" y="594.90" width="3.92" height="1.04"/>
<rect x="527.96" y="595.92" width="1.96" height="1.04"/>
<rect x="531.88" y="595.92" width="1.96" height="1.04"/>
<rect x="526.98" y="596.94" width="1.96" height="1.04"/>
<rect x="526.00" y="597.96" width="1.96" height="1.04"/>
<rect x="526.00" y="598.98" width="6.86" height="1.04"/>
<rect x="526.00" y="600.00" width="1.96" height="1.04"/>
<rect x="531.88" y="600.00" width="1.96" height="1.04"/>
<rect x="526.00" y="601.02" width="1.96" height="1.04"/>
<rect x="531.88" y="601.02" width="1.96" height="1.04"/>
<rect x="526.00" y="602.04" width="1.96" height="1.04"/>
<rect x="531.88" y="602.04" width="1.96" height="1.04"/>
<rect x="526.98" y="603.06" width="1.96" height="1.04"/>
<rect x="530.90" y="603.06" width="1.96" height="1.04"/>
<rect x="527.96" y="604.08" width="3.92" height="1.04"/>
<rect x="544.00" y="594.90" width="1.96" height="1.04"/>
<rect x="549.88" y="594.90" width="1.96" height="1.04"/>
<rect x="544.00" y="595.92" width="1.96" height="1.04"/>
<rect x="549.88" y="595.92" width="1.96" height="1.04"/>
<rect x="544.00" y="596.94" width="1.96" height="1.04"/>
<rect x="549.88" y="596.94" width="1.96" height="1.04"/>
<rect x="544.00" y="597.96" width="1.96" height="1.04"/>
<rect x="549.88" y="597.96" width="1.96" height="1.04"/>
<rect x="544.00" y="598.98" width="1.96" height="1.04"/>
<rect x="549.88" y="598.98" width="1.96" height="1.04"/>
<rect x="544.00" y="600.00" width="1.96" height="1.04"/>
<rect x="549.88" y="600.00" width="1.96" height="1.04"/>
<rect x="544.00" y="601.02" width="1.96" height="1.04"/>
<rect x="549.88" y="601.02" width="1.96" height="1.04"/>
<rect x="544.00" y="602.04" width="1.96" height="1.04"/>
<rect x="549.88" y="602.04" width="1.96" height="1.04"/>
<rect x="544.00" y="603.06" width="1.96" height="1.04"/>
<rect x="549.88" y="603.06" width="1.96" height="1.04"/>
<rect x="544.00" y="604.08" width="1.96" height="1.04"/>
<rect x="549.88" y="604.08" width="1.96" height="1.04"/>
<rect x="553.00" y="594.90" width="1.96" height="1.04"/>
<rect x="558.88" y="594.90" width="1.96" height="1.04"/>
<rect x="553.00" y="595.92" width="1.96" height="1.04"/>
<rect x="558.88" y="595.92" width="1.96" height="1.04"/>
<rect x="553.00" y="596.94" width="1.96" height="1.04"/>
<rect x="558.88" y="596.94" width="1.96" height="1.04"/>
<rect x="553.00" y="597.96" width="1.96" height="1.04"/>
<rect x="558.88" y="597.96" width="1.96" height="1.04"/>
<rect x="553.00" y="598.98" width="1.96" height="1.04"/>
<rect x="558.88" y="598.98" width="1.96" height="1.04"/>
<rect x="553.00" y="600.00" width="1.96" height="1.04"/>
<rect x="558.88" y="600.00" width="1.96" height="1.04"/>
<rect x="553.00" y="601.02" width="1.96" height="1.04"/>
<rect x="558.88" y="601.02" width="1.96" height="1.04"/>
<rect x="553.00" y="602.04" width="1.96" height="1.04"/>
<rect x="558.88" y="602.04" width="1.96" height="1.04"/>
<rect x="553.98" y="603.06" width="1.96" height="1.04"/>
<rect x="557.90" y="603.06" width="1.96" height="1.04"/>
<rect x="554.96" y="604.08" width="3.92" height="1.04"/>
<rect x="562.00" y="594.90" width="6.86" height="1.04"/>
<rect x="562.00" y="595.92" width="1.96" height="1.04"/>
<rect x="567.88" y="595.92" width="1.96" height="1.04"/>
<rect x="562.00" y="596.94" width="1.96" height="1.04"/>
<rect x="567.88" y="596.94" width="1.96" height="1.04"/>
<rect x="562.00" y="597.96" width="1.96" height="1.04"/>
<rect x="567.88" y="597.96" width="1.96" height="1.04"/>
<rect x="562.00" y="598.98" width="6.86" height="1.04"/>
<rect x="562.00" y="600.00" width="1.96" height="1.04"/>
<rect x="565.92" y="600.00" width="1.96" height="1.04"/>
<rect x="562.00" y="601.02" width="1.96" height="1.04"/>
<rect x="566.90" y="601.02" width="1.96" height="1.04"/>
<rect x="562.00" y="602.04" width="1.96" height="1.04"/>
<rect x="566.90" y="602.04" width="1.96" height="1.04"/>
<rect x="562.00" y="603.06" width="1.96" height="1.04"/>
<rect x="567.88" y="603.06" width="1.96" height="1.04"/>
<rect x="562.00" y="604.08" width="1.96" height="1.04"/>
<rect x="567.88" y="604.08" width="1.96" height="1.04"/>
<rect x="571.00" y="594.90" width="1.96" height="1.04"/>
<rect x="576.88" y="594.90" width="1.96" height="1.04"/>
<rect x="571.00" y="595.92" width="1.96" height="1.04"/>
<rect x="576.88" y="595.92" width="1.96" height="1.04"/>
<rect x="571.00" y="596.94" width="1.96" height="1.04"/>
<rect x="576.88" y="596.94" width="1.96" height="1.04"/>
<rect x="571.00" y="597.96" width="1.96" height="1.04"/>
<rect x="576.88" y="597.96" width="1.96" height="1.04"/>
<rect x="571.00" y="598.98" width="1.96" height="1.04"/>
<rect x="576.88" y="598.98" width="1.96" height="1.04"/>
<rect x="571.00" y="600.00" width="1.96" height="1.04"/>
<rect x="576.88" y="600.00" width="1.96" height="1.04"/>
<rect x="571.00" y="601.02" width="1.96" height="1.04"/>
<rect x="576.88" y="601.02" width="1.96" height="1.04"/>
<rect x="571.00" y="602.04" width="1.96" height="1.04"/>
<rect x="576.88" y="602.04" width="1.96" height="1.04"/>
<rect x="571.98" y="603.06" width="1.96" height="1.04"/>
<rect x="575.90" y="603.06" width="1.96" height="1.04"/>
<rect x="572.96" y="604.08" width="3.92" height="1.04"/>
<rect x="580.00" y="594.90" width="1.96" height="1.04"/>
<rect x="580.00" y="595.92" width="1.96" height="1.04"/>
<rect x="580.00" y="596.94" width="1.96" height="1.04"/>
<rect x="580.00" y="597.96" width="1.96" height="1.04"/>
<rect x="580.00" y="598.98" width="1.96" height="1.04"/>
<rect x="580.00" y="600.00" width="1.96" height="1.04"/>
<rect x="580.00" y="601.02" width="1.96" height="1.04"/>
<rect x="580.00" y="602.04" width="1.96" height="1.04"/>
<rect x="580.00" y="603.06" width="1.96" height="1.04"/>
<rect x="580.00" y="604.08" width="6.86" height="1.04"/>
<rect x="591.94" y="594.90" width="1.96" height="1.04"/>
<rect x="590.96" y="595.92" width="3.92" height="1.04"/>
<rect x="589.98" y="596.94" width="1.96" height="1.04"/>
<rect x="593.90" y="596.94" width="1.96" height="1.04"/>
<rect x="589.00" y="597.96" width="1.96" height="1.04"/>
<rect x="594.88" y="597.96" width="1.96" height="1.04"/>
<rect x="589.00" y="598.98" width="1.96" height="1.04"/>
<rect x="594.88" y="598.98" width="1.96" height="1.04"/>
<rect x="589.00" y="600.00" width="7.84" height="1.04"/>
<rect x="589.00" y="601.02" width="1.96" height="1.04"/>
<rect x="594.88" y="601.02" width="1.96" height="1.04"/>
<rect x="589.00" y="602.04" width="1.96" height="1.04"/>
<rect x="594.88" y="602.04" width="1.96" height="1.04"/>
<rect x="589.00" y="603.06" width="1.96" height="1.04"/>
<rect x="594.88" y="603.06" width="1.96" height="1.04"/>
<rect x="589.00" y="604.08" width="1.96" height="1.04"/>
<rect x="594.88" y="604.08" width="1.96" height="1.04"/>
<rect x="598.00" y="594.90" width="1.96" height="1.04"/>
<rect x="603.88" y="594.90" width="1.96" height="1.04"/>
<rect x="598.00" y="595.92" width="2.94" height="1.04"/>
<rect x="602.90" y="595.92" width="2.94" height="1.04"/>
<rect x="598.00" y="596.94" width="2.94" height="1.04"/>
<rect x="602.90" y="596.94" width="2.94" height="1.04"/>
<rect x="598.00" y="597.96" width="1.96" height="1.04"/>
<rect x="600.94" y="597.96" width="1.96" height="1.04"/>
<rect x="603.88" y="597.96" width="1.96" height="1.04"/>
<rect x="598.00" y="598.98" width="1.96" height="1.04"/>
<rect x="600.94" y="598.98" width="1.96" height="1.04"/>
<rect x="603.88" y="598.98" width="1.96" height="1.04"/>
<rect x="598.00" y="600.00" width="1.96" height="1.04"/>
<rect x="603.88" y="600.00" width="1.96" height="1.04"/>
<rect x="598.00" y="601.02" width="1.96" height="1.04"/>
<rect x="603.88" y="601.02" width="1.96" height="1.04"/>
<rect x="598.00" y="602.04" width="1.96" height="1.04"/>
<rect x="603.88" y="602.04" width="1.96" height="1.04"/>
<rect x="598.00" y="603.06" width="1.96" height="1.04"/>
<rect x="603.88" y="603.06" width="1.96" height="1.04"/>
<rect x="598.00" y="604.08" width="1.96" height="1.04"/>
<rect x="603.88" y="604.08" width="1.96" height="1.04"/>
<rect x="607.98" y="594.90" width="5.88" height="1.04"/>
<rect x="609.94" y="595.92" width="1.96" height="1.04"/>
<rect x="609.94" y="596.94" width="1.96" height="1.04"/>
<rect x="609.94" y="597.96" width="1.96" height="1.04"/>
<rect x="609.94" y="598.98" width="1.96" height="1.04"/>
<rect x="609.94" y="600.00" width="1.96" height="1.04"/>
<rect x="609.94" y="601.02" width="1.96" height="1.04"/>
<rect x="609.94" y="602.04" width="1.96" height="1.04"/>
<rect x="609.94" y="603.06" width="1.96" height="1.04"/>
<rect x="607.98" y="604.08" width="5.88" height="1.04"/>
<rect x="616.00" y="594.90" width="1.96" height="1.04"/>
<rect x="621.88" y="594.90" width="1.96" height="1.04"/>
<rect x="616.00" y="595.92" width="1.96" height="1.04"/>
<rect x="621.88" y="595.92" width="1.96" height="1.04"/>
<rect x="616.00" y="596.94" width="1.96" height="1.04"/>
<rect x="621.88" y="596.94" width="1.96" height="1.04"/>
<rect x="616.00" y="597.96" width="1.96" height="1.04"/>
<rect x="621.88" y="597.96" width="1.96" height="1.04"/>
<rect x="616.00" y="598.98" width="1.96" height="1.04"/>
<rect x="621.88" y="598.98" width="1.96" height="1.04"/>
<rect x="616.00" y="600.00" width="1.96" height="1.04"/>
<rect x="621.88" y="600.00" width="1.96" height="1.04"/>
<rect x="616.00" y="601.02" width="1.96" height="1.04"/>
<rect x="621.88" y="601.02" width="1.96" height="1.04"/>
<rect x="616.00" y="602.04" width="1.96" height="1.04"/>
<rect x="621.88" y="602.04" width="1.96" height="1.04"/>
<rect x="616.00" y="603.06" width="1.96" height="1.04"/>
<rect x="621.88" y="603.06" width="1.96" height="1.04"/>
<rect x="616.00" y="604.08" width="1.96" height="1.04"/>
<rect x="621.88" y="604.08" width="1.96" height="1.04"/>
<polygon points="455.70,595.50 457.20,595.50 460.20,604.50 458.70,604.50"/>
<polygon points="545.70,595.50 547.20,595.50 550.20,604.50 548.70,604.50"/>
<polygon points="617.70,595.50 619.20,595.50 622.20,604.50 620.70,604.50"/>
</g>
</svg></body></html>
